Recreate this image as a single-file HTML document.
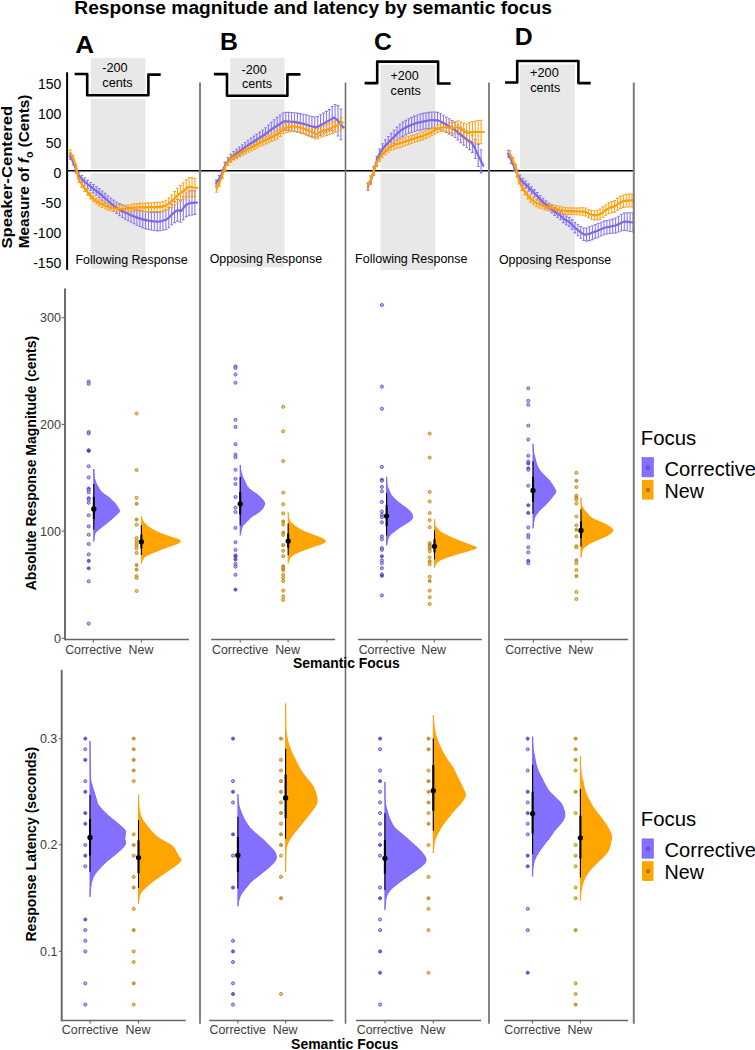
<!DOCTYPE html><html><head><meta charset="utf-8"><style>html,body{margin:0;padding:0;background:#fff;}svg{display:block;}</style></head><body>
<svg width="755" height="1050" viewBox="0 0 755 1050" font-family='"Liberation Sans", sans-serif'>
<rect width="755" height="1050" fill="#fff"/>
<text transform="translate(74.35,13.80) scale(0.9992,1)" font-size="19.2" font-weight="bold" fill="#000">Response magnitude and latency by semantic focus</text>
<text transform="translate(75.35,52.80) scale(1.0532,1)" font-size="24.8" font-weight="bold" fill="#000">A</text>
<text transform="translate(219.89,49.80) scale(1.0000,1)" font-size="24.8" font-weight="bold" fill="#000">B</text>
<text transform="translate(374.11,50.20) scale(1.0000,1)" font-size="24.8" font-weight="bold" fill="#000">C</text>
<text transform="translate(514.79,44.80) scale(1.0000,1)" font-size="24.8" font-weight="bold" fill="#000">D</text>
<rect x="90.8" y="57.80" width="54.60" height="36.20" fill="#E8E8E8"/>
<rect x="90.8" y="98.90" width="54.60" height="70.00" fill="#E8E8E8"/>
<rect x="90.8" y="173.30" width="54.60" height="95.50" fill="#E8E8E8"/>
<rect x="230.2" y="57.90" width="54.30" height="36.50" fill="#E8E8E8"/>
<rect x="230.2" y="99.30" width="54.30" height="69.60" fill="#E8E8E8"/>
<rect x="230.2" y="173.30" width="54.30" height="94.10" fill="#E8E8E8"/>
<rect x="380.5" y="64.90" width="54.70" height="104.00" fill="#E8E8E8"/>
<rect x="380.5" y="173.30" width="54.70" height="96.60" fill="#E8E8E8"/>
<rect x="520.1" y="64.50" width="54.70" height="104.40" fill="#E8E8E8"/>
<rect x="520.1" y="173.30" width="54.70" height="96.20" fill="#E8E8E8"/>
<path d="M74.6,74.0 L87.2,74.0 L87.2,95.2 L148.4,95.2 L148.4,74.6 L160.7,74.6" fill="none" stroke="#000" stroke-width="2.6" stroke-linejoin="round"/>
<path d="M213.9,74.1 L227.0,74.1 L227.0,95.7 L287.4,95.7 L287.4,74.4 L300.5,74.4" fill="none" stroke="#000" stroke-width="2.6" stroke-linejoin="round"/>
<path d="M364.6,83.1 L377.2,83.1 L377.2,61.6 L438.1,61.6 L438.1,83.5 L450.7,83.5" fill="none" stroke="#000" stroke-width="2.6" stroke-linejoin="round"/>
<path d="M505.0,82.5 L517.2,82.5 L517.2,61.0 L578.4,61.0 L578.4,83.1 L590.7,83.1" fill="none" stroke="#000" stroke-width="2.6" stroke-linejoin="round"/>
<text transform="translate(102.23,72.10) scale(1.0086,1)" font-size="12.6" font-weight="normal" fill="#000">-200</text>
<text transform="translate(102.29,86.70) scale(1.0113,1)" font-size="12.6" font-weight="normal" fill="#000">cents</text>
<text transform="translate(241.54,73.80) scale(0.9962,1)" font-size="12.6" font-weight="normal" fill="#000">-200</text>
<text transform="translate(241.90,87.70) scale(0.9976,1)" font-size="12.6" font-weight="normal" fill="#000">cents</text>
<text transform="translate(390.47,79.80) scale(0.9971,1)" font-size="12.6" font-weight="normal" fill="#000">+200</text>
<text transform="translate(390.60,94.50) scale(1.0011,1)" font-size="12.6" font-weight="normal" fill="#000">cents</text>
<text transform="translate(530.06,77.30) scale(1.0118,1)" font-size="12.6" font-weight="normal" fill="#000">+200</text>
<text transform="translate(530.20,91.80) scale(1.0011,1)" font-size="12.6" font-weight="normal" fill="#000">cents</text>
<text transform="translate(75.50,263.60) scale(0.9885,1)" font-size="12.6" font-weight="normal" fill="#000">Following Response</text>
<text transform="translate(209.64,262.70) scale(0.9865,1)" font-size="12.6" font-weight="normal" fill="#000">Opposing Response</text>
<text transform="translate(355.10,263.00) scale(0.9912,1)" font-size="12.6" font-weight="normal" fill="#000">Following Response</text>
<text transform="translate(498.94,264.30) scale(0.9830,1)" font-size="12.6" font-weight="normal" fill="#000">Opposing Response</text>
<line x1="67" y1="170.8" x2="633" y2="170.8" stroke="#000" stroke-width="1.5"/>
<line x1="67.1" y1="72.3" x2="67.1" y2="269.8" stroke="#000" stroke-width="2"/>
<text transform="translate(37.88,88.90) scale(1.0000,1)" font-size="14.0" font-weight="normal" fill="#000">150</text>
<text transform="translate(37.88,118.70) scale(1.0000,1)" font-size="14.0" font-weight="normal" fill="#000">100</text>
<text transform="translate(45.65,148.40) scale(1.0000,1)" font-size="14.0" font-weight="normal" fill="#000">50</text>
<text transform="translate(53.42,178.20) scale(1.0000,1)" font-size="14.0" font-weight="normal" fill="#000">0</text>
<text transform="translate(40.96,208.00) scale(1.0000,1)" font-size="14.0" font-weight="normal" fill="#000">-50</text>
<text transform="translate(33.19,237.80) scale(1.0000,1)" font-size="14.0" font-weight="normal" fill="#000">-100</text>
<text transform="translate(33.19,267.50) scale(1.0000,1)" font-size="14.0" font-weight="normal" fill="#000">-150</text>
<g transform="translate(11.90,248.00) rotate(-90) scale(1.0974,1)">
<text x="-0.46" y="0.00" font-size="15.20" font-weight="bold" fill="#000">Speaker-Centered</text>
</g>
<g transform="translate(29.00,247.30) rotate(-90) scale(1.0073,1)">
<text x="-0.99" y="0.00" font-size="15.20" font-weight="bold" fill="#000">Measure of </text>
<text x="83.48" y="0.00" font-size="15.20" font-weight="bold" font-style="italic" fill="#000">f</text>
<text x="88.54" y="3.50" font-size="10.64" font-weight="bold" fill="#000">o</text>
<text x="95.04" y="0.00" font-size="15.20" font-weight="bold" fill="#000"> (Cents)</text>
</g>
<path d="M70.20,153.19V159.21M68.80,153.19h2.8M68.80,159.21h2.8M73.10,158.63V164.98M71.70,158.63h2.8M71.70,164.98h2.8M76.00,166.16V172.85M74.60,166.16h2.8M74.60,172.85h2.8M78.90,172.11V179.13M77.50,172.11h2.8M77.50,179.13h2.8M81.80,175.30V182.65M80.40,175.30h2.8M80.40,182.65h2.8M84.70,177.81V185.47M83.30,177.81h2.8M83.30,185.47h2.8M87.60,180.20V188.12M86.20,180.20h2.8M86.20,188.12h2.8M90.50,182.44V190.64M89.10,182.44h2.8M89.10,190.64h2.8M93.40,184.51V192.97M92.00,184.51h2.8M92.00,192.97h2.8M96.30,186.50V195.22M94.90,186.50h2.8M94.90,195.22h2.8M99.20,188.64V197.62M97.80,188.64h2.8M97.80,197.62h2.8M102.10,190.97V200.22M100.70,190.97h2.8M100.70,200.22h2.8M105.00,193.37V202.88M103.60,193.37h2.8M103.60,202.88h2.8M107.90,195.72V205.66M106.50,195.72h2.8M106.50,205.66h2.8M110.80,198.06V208.53M109.40,198.06h2.8M109.40,208.53h2.8M113.70,200.16V211.15M112.30,200.16h2.8M112.30,211.15h2.8M116.60,202.01V213.53M115.20,202.01h2.8M115.20,213.53h2.8M119.50,203.60V215.64M118.10,203.60h2.8M118.10,215.64h2.8M122.40,204.88V217.45M121.00,204.88h2.8M121.00,217.45h2.8M125.30,206.00V219.10M123.90,206.00h2.8M123.90,219.10h2.8M128.20,207.09V220.73M126.80,207.09h2.8M126.80,220.73h2.8M131.10,208.09V222.31M129.70,208.09h2.8M129.70,222.31h2.8M134.00,209.02V223.82M132.60,209.02h2.8M132.60,223.82h2.8M136.90,209.90V225.28M135.50,209.90h2.8M135.50,225.28h2.8M139.80,210.57V226.53M138.40,210.57h2.8M138.40,226.53h2.8M142.70,211.10V227.64M141.30,211.10h2.8M141.30,227.64h2.8M145.60,211.57V228.63M144.20,211.57h2.8M144.20,228.63h2.8M148.50,212.01V229.39M147.10,212.01h2.8M147.10,229.39h2.8M151.40,212.35V230.03M150.00,212.35h2.8M150.00,230.03h2.8M154.30,212.57V230.56M152.90,212.57h2.8M152.90,230.56h2.8M157.20,212.56V230.86M155.80,212.56h2.8M155.80,230.86h2.8M160.10,212.13V230.74M158.70,212.13h2.8M158.70,230.74h2.8M163.00,211.14V230.25M161.60,211.14h2.8M161.60,230.25h2.8M165.90,209.83V229.43M164.50,209.83h2.8M164.50,229.43h2.8M168.80,207.62V227.72M167.40,207.62h2.8M167.40,227.72h2.8M171.70,204.38V224.97M170.30,204.38h2.8M170.30,224.97h2.8M174.60,201.50V222.58M173.20,201.50h2.8M173.20,222.58h2.8M177.50,199.55V221.12M176.10,199.55h2.8M176.10,221.12h2.8M180.40,200.12V222.24M179.00,200.12h2.8M179.00,222.24h2.8M183.30,196.74V219.73M181.90,196.74h2.8M181.90,219.73h2.8M186.20,192.99V216.85M184.80,192.99h2.8M184.80,216.85h2.8M189.10,191.07V215.80M187.70,191.07h2.8M187.70,215.80h2.8M192.00,190.63V215.01M190.60,190.63h2.8M190.60,215.01h2.8M194.90,190.86V214.36M193.50,190.86h2.8M193.50,214.36h2.8" fill="none" stroke="#8A78F0" stroke-width="1.1"/>
<path d="M70.20,149.90V155.90M68.80,149.90h2.8M68.80,155.90h2.8M73.10,155.27V161.27M71.70,155.27h2.8M71.70,161.27h2.8M76.00,163.98V169.98M74.60,163.98h2.8M74.60,169.98h2.8M78.90,176.52V182.52M77.50,176.52h2.8M77.50,182.52h2.8M81.80,181.34V187.34M80.40,181.34h2.8M80.40,187.34h2.8M84.70,185.53V191.53M83.30,185.53h2.8M83.30,191.53h2.8M87.60,189.29V195.29M86.20,189.29h2.8M86.20,195.29h2.8M90.50,192.90V198.90M89.10,192.90h2.8M89.10,198.90h2.8M93.40,195.82V201.82M92.00,195.82h2.8M92.00,201.82h2.8M96.30,198.05V204.05M94.90,198.05h2.8M94.90,204.05h2.8M99.20,199.84V205.84M97.80,199.84h2.8M97.80,205.84h2.8M102.10,201.33V207.40M100.70,201.33h2.8M100.70,207.40h2.8M105.00,202.57V208.74M103.60,202.57h2.8M103.60,208.74h2.8M107.90,203.57V209.83M106.50,203.57h2.8M106.50,209.83h2.8M110.80,204.32V210.68M109.40,204.32h2.8M109.40,210.68h2.8M113.70,204.86V211.32M112.30,204.86h2.8M112.30,211.32h2.8M116.60,205.24V211.79M115.20,205.24h2.8M115.20,211.79h2.8M119.50,205.42V212.07M118.10,205.42h2.8M118.10,212.07h2.8M122.40,205.41V212.16M121.00,205.41h2.8M121.00,212.16h2.8M125.30,205.27V212.11M123.90,205.27h2.8M123.90,212.11h2.8M128.20,205.01V211.95M126.80,205.01h2.8M126.80,211.95h2.8M131.10,204.48V211.58M129.70,204.48h2.8M129.70,211.58h2.8M134.00,203.91V211.27M132.60,203.91h2.8M132.60,211.27h2.8M136.90,203.59V211.21M135.50,203.59h2.8M135.50,211.21h2.8M139.80,203.42V211.30M138.40,203.42h2.8M138.40,211.30h2.8M142.70,203.27V211.42M141.30,203.27h2.8M141.30,211.42h2.8M145.60,203.08V211.49M144.20,203.08h2.8M144.20,211.49h2.8M148.50,202.89V211.55M147.10,202.89h2.8M147.10,211.55h2.8M151.40,202.70V211.61M150.00,202.70h2.8M150.00,211.61h2.8M154.30,202.51V211.65M152.90,202.51h2.8M152.90,211.65h2.8M157.20,202.29V211.66M155.80,202.29h2.8M155.80,211.66h2.8M160.10,201.99V211.59M158.70,201.99h2.8M158.70,211.59h2.8M163.00,201.55V211.39M161.60,201.55h2.8M161.60,211.39h2.8M165.90,200.27V210.63M164.50,200.27h2.8M164.50,210.63h2.8M168.80,197.76V209.28M167.40,197.76h2.8M167.40,209.28h2.8M171.70,194.72V207.40M170.30,194.72h2.8M170.30,207.40h2.8M174.60,191.47V205.31M173.20,191.47h2.8M173.20,205.31h2.8M177.50,188.22V203.05M176.10,188.22h2.8M176.10,203.05h2.8M180.40,185.38V201.18M179.00,185.38h2.8M179.00,201.18h2.8M183.30,182.74V199.51M181.90,182.74h2.8M181.90,199.51h2.8M186.20,179.91V197.65M184.80,179.91h2.8M184.80,197.65h2.8M189.10,177.52V196.22M187.70,177.52h2.8M187.70,196.22h2.8M192.00,177.91V196.63M190.60,177.91h2.8M190.60,196.63h2.8M194.90,178.50V196.82M193.50,178.50h2.8M193.50,196.82h2.8" fill="none" stroke="#FFA31A" stroke-width="1.1"/>
<path d="M70.20,156.20 C70.77,157.32 72.57,160.52 73.60,162.90 C74.63,165.28 75.45,168.28 76.40,170.50 C77.35,172.72 78.03,174.45 79.30,176.20 C80.57,177.95 82.10,179.25 84.00,181.00 C85.90,182.75 88.32,184.80 90.70,186.70 C93.08,188.60 95.75,190.35 98.30,192.40 C100.85,194.45 103.62,196.93 106.00,199.00 C108.38,201.07 110.38,203.05 112.60,204.80 C114.82,206.55 116.92,208.08 119.30,209.50 C121.68,210.92 124.62,212.22 126.90,213.30 C129.18,214.38 130.93,215.15 133.00,216.00 C135.07,216.85 136.72,217.62 139.30,218.40 C141.88,219.18 145.42,220.15 148.50,220.70 C151.58,221.25 155.05,221.82 157.80,221.70 C160.55,221.58 163.13,220.70 165.00,220.00 C166.87,219.30 167.57,218.70 169.00,217.50 C170.43,216.30 172.07,214.03 173.60,212.80 C175.13,211.57 176.97,210.40 178.20,210.10 C179.43,209.80 179.77,211.78 181.00,211.00 C182.23,210.22 184.05,206.72 185.60,205.40 C187.15,204.08 188.37,203.58 190.30,203.10 C192.23,202.62 196.05,202.60 197.20,202.50" fill="none" stroke="#7B68EE" stroke-width="2.2" stroke-linejoin="round" stroke-linecap="round"/>
<path d="M70.20,152.90 C70.58,153.58 71.78,155.50 72.50,157.00 C73.22,158.50 73.77,159.65 74.50,161.90 C75.23,164.15 76.27,167.80 76.90,170.50 C77.53,173.20 77.43,175.72 78.30,178.10 C79.17,180.48 80.67,182.58 82.10,184.80 C83.53,187.02 85.15,189.18 86.90,191.40 C88.65,193.62 90.53,196.18 92.60,198.10 C94.67,200.02 96.75,201.47 99.30,202.90 C101.85,204.33 104.88,205.75 107.90,206.70 C110.92,207.65 114.23,208.28 117.40,208.60 C120.57,208.92 123.97,208.78 126.90,208.60 C129.83,208.42 131.98,207.72 135.00,207.50 C138.02,207.28 140.83,207.42 145.00,207.30 C149.17,207.18 156.50,207.12 160.00,206.80 C163.50,206.48 164.00,206.40 166.00,205.40 C168.00,204.40 170.00,202.50 172.00,200.80 C174.00,199.10 176.00,196.90 178.00,195.20 C180.00,193.50 182.17,191.98 184.00,190.60 C185.83,189.22 187.50,187.42 189.00,186.90 C190.50,186.38 191.63,187.35 193.00,187.50 C194.37,187.65 196.50,187.75 197.20,187.80" fill="none" stroke="#FF9F00" stroke-width="2.2" stroke-linejoin="round" stroke-linecap="round"/>
<path d="M216.20,179.69V186.71M214.80,179.69h2.8M214.80,186.71h2.8M219.10,175.50V182.68M217.70,175.50h2.8M217.70,182.68h2.8M222.00,169.79V177.14M220.60,169.79h2.8M220.60,177.14h2.8M224.90,162.12V169.64M223.50,162.12h2.8M223.50,169.64h2.8M227.80,157.54V165.22M226.40,157.54h2.8M226.40,165.22h2.8M230.70,154.08V161.93M229.30,154.08h2.8M229.30,161.93h2.8M233.60,151.52V159.54M232.20,151.52h2.8M232.20,159.54h2.8M236.50,149.20V157.39M235.10,149.20h2.8M235.10,157.39h2.8M239.40,146.99V155.36M238.00,146.99h2.8M238.00,155.36h2.8M242.30,144.75V153.48M240.90,144.75h2.8M240.90,153.48h2.8M245.20,142.45V151.60M243.80,142.45h2.8M243.80,151.60h2.8M248.10,140.19V149.76M246.70,140.19h2.8M246.70,149.76h2.8M251.00,138.09V148.07M249.60,138.09h2.8M249.60,148.07h2.8M253.90,136.10V146.50M252.50,136.10h2.8M252.50,146.50h2.8M256.80,134.10V144.92M255.40,134.10h2.8M255.40,144.92h2.8M259.70,132.10V143.34M258.30,132.10h2.8M258.30,143.34h2.8M262.60,130.05V141.70M261.20,130.05h2.8M261.20,141.70h2.8M265.50,127.75V139.95M264.10,127.75h2.8M264.10,139.95h2.8M268.40,124.95V138.31M267.00,124.95h2.8M267.00,138.31h2.8M271.30,122.24V136.76M269.90,122.24h2.8M269.90,136.76h2.8M274.20,119.78V135.46M272.80,119.78h2.8M272.80,135.46h2.8M277.10,117.42V134.26M275.70,117.42h2.8M275.70,134.26h2.8M280.00,114.95V132.95M278.60,114.95h2.8M278.60,132.95h2.8M282.90,113.00V130.71M281.50,113.00h2.8M281.50,130.71h2.8M285.80,112.36V130.11M284.40,112.36h2.8M284.40,130.11h2.8M288.70,112.33V130.33M287.30,112.33h2.8M287.30,130.33h2.8M291.60,112.53V130.78M290.20,112.53h2.8M290.20,130.78h2.8M294.50,112.78V131.28M293.10,112.78h2.8M293.10,131.28h2.8M297.40,113.14V131.89M296.00,113.14h2.8M296.00,131.89h2.8M300.30,113.61V132.61M298.90,113.61h2.8M298.90,132.61h2.8M303.20,114.18V133.43M301.80,114.18h2.8M301.80,133.43h2.8M306.10,114.91V134.40M304.70,114.91h2.8M304.70,134.40h2.8M309.00,115.72V135.46M307.60,115.72h2.8M307.60,135.46h2.8M311.90,116.45V136.45M310.50,116.45h2.8M310.50,136.45h2.8M314.80,116.97V137.19M313.40,116.97h2.8M313.40,137.19h2.8M317.70,116.49V136.93M316.30,116.49h2.8M316.30,136.93h2.8M320.60,114.80V135.47M319.20,114.80h2.8M319.20,135.47h2.8M323.50,113.11V134.00M322.10,113.11h2.8M322.10,134.00h2.8M326.40,111.38V132.50M325.00,111.38h2.8M325.00,132.50h2.8M329.30,109.64V130.99M327.90,109.64h2.8M327.90,130.99h2.8M332.20,106.56V130.45M330.80,106.56h2.8M330.80,130.45h2.8M335.10,104.50V131.68M333.70,104.50h2.8M333.70,131.68h2.8M338.00,105.58V136.05M336.60,105.58h2.8M336.60,136.05h2.8M340.90,108.97V139.74M339.50,108.97h2.8M339.50,139.74h2.8" fill="none" stroke="#8A78F0" stroke-width="1.1"/>
<path d="M216.60,185.30V192.30M215.20,185.30h2.8M215.20,192.30h2.8M219.50,178.87V185.87M218.10,178.87h2.8M218.10,185.87h2.8M222.40,171.41V178.41M221.00,171.41h2.8M221.00,178.41h2.8M225.30,163.35V170.35M223.90,163.35h2.8M223.90,170.35h2.8M228.20,158.25V165.25M226.80,158.25h2.8M226.80,165.25h2.8M231.10,155.09V162.09M229.70,155.09h2.8M229.70,162.09h2.8M234.00,153.20V160.20M232.60,153.20h2.8M232.60,160.20h2.8M236.90,151.63V158.63M235.50,151.63h2.8M235.50,158.63h2.8M239.80,149.92V156.92M238.40,149.92h2.8M238.40,156.92h2.8M242.70,148.22V155.22M241.30,148.22h2.8M241.30,155.22h2.8M245.60,146.68V153.68M244.20,146.68h2.8M244.20,153.68h2.8M248.50,145.24V152.24M247.10,145.24h2.8M247.10,152.24h2.8M251.40,143.83V150.83M250.00,143.83h2.8M250.00,150.83h2.8M254.30,142.40V149.40M252.90,142.40h2.8M252.90,149.40h2.8M257.20,140.93V147.93M255.80,140.93h2.8M255.80,147.93h2.8M260.10,139.46V146.47M258.70,139.46h2.8M258.70,146.47h2.8M263.00,137.83V145.17M261.60,137.83h2.8M261.60,145.17h2.8M265.90,136.23V143.90M264.50,136.23h2.8M264.50,143.90h2.8M268.80,134.63V142.63M267.40,134.63h2.8M267.40,142.63h2.8M271.70,133.04V141.36M270.30,133.04h2.8M270.30,141.36h2.8M274.60,131.51V140.17M273.20,131.51h2.8M273.20,140.17h2.8M277.50,129.85V138.83M276.10,129.85h2.8M276.10,138.83h2.8M280.40,127.05V136.37M279.00,127.05h2.8M279.00,136.37h2.8M283.30,124.17V133.81M281.90,124.17h2.8M281.90,133.81h2.8M286.20,122.66V132.62M284.80,122.66h2.8M284.80,132.62h2.8M289.10,121.76V132.06M287.70,121.76h2.8M287.70,132.06h2.8M292.00,121.33V131.77M290.60,121.33h2.8M290.60,131.77h2.8M294.90,121.31V131.81M293.50,121.31h2.8M293.50,131.81h2.8M297.80,121.75V132.30M296.40,121.75h2.8M296.40,132.30h2.8M300.70,122.47V133.08M299.30,122.47h2.8M299.30,133.08h2.8M303.60,123.32V133.99M302.20,123.32h2.8M302.20,133.99h2.8M306.50,124.38V135.11M305.10,124.38h2.8M305.10,135.11h2.8M309.40,125.57V136.36M308.00,125.57h2.8M308.00,136.36h2.8M312.30,126.76V137.61M310.90,126.76h2.8M310.90,137.61h2.8M315.20,128.17V139.07M313.80,128.17h2.8M313.80,139.07h2.8M318.10,127.98V138.95M316.70,127.98h2.8M316.70,138.95h2.8M321.00,126.25V137.29M319.60,126.25h2.8M319.60,137.29h2.8M323.90,125.12V136.29M322.50,125.12h2.8M322.50,136.29h2.8M326.80,124.09V135.39M325.40,124.09h2.8M325.40,135.39h2.8M329.70,123.03V134.45M328.30,123.03h2.8M328.30,134.45h2.8M332.60,121.81V133.36M331.20,121.81h2.8M331.20,133.36h2.8M335.50,120.46V132.14M334.10,120.46h2.8M334.10,132.14h2.8M338.40,118.99V130.80M337.00,118.99h2.8M337.00,130.80h2.8M341.30,117.28V129.22M339.90,117.28h2.8M339.90,129.22h2.8" fill="none" stroke="#FFA31A" stroke-width="1.1"/>
<path d="M216.20,183.20 C216.73,182.43 218.40,180.30 219.40,178.60 C220.40,176.90 221.42,174.85 222.20,173.00 C222.98,171.15 223.33,169.20 224.10,167.50 C224.87,165.80 225.73,164.35 226.80,162.80 C227.87,161.25 228.95,159.73 230.50,158.20 C232.05,156.67 234.08,155.15 236.10,153.60 C238.12,152.05 240.43,150.45 242.60,148.90 C244.77,147.35 246.78,145.83 249.10,144.30 C251.42,142.77 254.03,141.25 256.50,139.70 C258.97,138.15 261.43,136.70 263.90,135.00 C266.37,133.30 268.82,131.20 271.30,129.50 C273.78,127.80 276.63,126.15 278.80,124.80 C280.97,123.45 281.85,121.88 284.30,121.40 C286.75,120.92 290.42,121.52 293.50,121.90 C296.58,122.28 299.70,122.93 302.80,123.70 C305.90,124.47 309.78,125.95 312.10,126.50 C314.42,127.05 315.15,127.30 316.70,127.00 C318.25,126.70 319.08,125.93 321.40,124.70 C323.72,123.47 328.45,120.77 330.60,119.60 C332.75,118.43 332.90,117.32 334.30,117.70 C335.70,118.08 337.75,120.58 339.00,121.90 C340.25,123.22 341.03,124.67 341.80,125.60 C342.57,126.53 343.30,127.18 343.60,127.50" fill="none" stroke="#7B68EE" stroke-width="2.2" stroke-linejoin="round" stroke-linecap="round"/>
<path d="M216.60,188.80 C217.22,187.42 219.22,183.13 220.30,180.50 C221.38,177.87 222.17,175.48 223.10,173.00 C224.03,170.52 224.67,167.92 225.90,165.60 C227.13,163.28 228.48,160.95 230.50,159.10 C232.52,157.25 235.68,155.88 238.00,154.50 C240.32,153.12 241.78,152.18 244.40,150.80 C247.02,149.42 250.60,147.75 253.70,146.20 C256.80,144.65 259.90,143.05 263.00,141.50 C266.10,139.95 269.80,138.15 272.30,136.90 C274.80,135.65 276.00,135.42 278.00,134.00 C280.00,132.58 281.72,129.65 284.30,128.40 C286.88,127.15 290.42,126.50 293.50,126.50 C296.58,126.50 299.70,127.47 302.80,128.40 C305.90,129.33 309.78,131.18 312.10,132.10 C314.42,133.02 315.15,133.98 316.70,133.90 C318.25,133.82 319.08,132.52 321.40,131.60 C323.72,130.68 327.83,129.48 330.60,128.40 C333.37,127.32 335.98,126.10 338.00,125.10 C340.02,124.10 341.92,122.85 342.70,122.40" fill="none" stroke="#FF9F00" stroke-width="2.2" stroke-linejoin="round" stroke-linecap="round"/>
<path d="M368.00,183.10V190.10M366.60,183.10h2.8M366.60,190.10h2.8M370.90,176.36V184.12M369.50,176.36h2.8M369.50,184.12h2.8M373.80,166.67V175.19M372.40,166.67h2.8M372.40,175.19h2.8M376.70,156.25V165.52M375.30,156.25h2.8M375.30,165.52h2.8M379.60,148.98V159.00M378.20,148.98h2.8M378.20,159.00h2.8M382.50,143.79V154.57M381.10,143.79h2.8M381.10,154.57h2.8M385.40,139.80V151.34M384.00,139.80h2.8M384.00,151.34h2.8M388.30,136.43V148.73M386.90,136.43h2.8M386.90,148.73h2.8M391.20,133.28V146.30M389.80,133.28h2.8M389.80,146.30h2.8M394.10,130.19V143.51M392.70,130.19h2.8M392.70,143.51h2.8M397.00,127.09V140.71M395.60,127.09h2.8M395.60,140.71h2.8M399.90,124.32V138.24M398.50,124.32h2.8M398.50,138.24h2.8M402.80,122.13V136.35M401.40,122.13h2.8M401.40,136.35h2.8M405.70,120.35V134.87M404.30,120.35h2.8M404.30,134.87h2.8M408.60,118.75V133.57M407.20,118.75h2.8M407.20,133.57h2.8M411.50,117.33V132.45M410.10,117.33h2.8M410.10,132.45h2.8M414.40,116.10V131.52M413.00,116.10h2.8M413.00,131.52h2.8M417.30,115.00V130.73M415.90,115.00h2.8M415.90,130.73h2.8M420.20,114.09V130.09M418.80,114.09h2.8M418.80,130.09h2.8M423.10,113.42V129.47M421.70,113.42h2.8M421.70,129.47h2.8M426.00,112.83V128.92M424.60,112.83h2.8M424.60,128.92h2.8M428.90,112.34V128.46M427.50,112.34h2.8M427.50,128.46h2.8M431.80,112.02V128.18M430.40,112.02h2.8M430.40,128.18h2.8M434.70,111.95V128.12M433.30,111.95h2.8M433.30,128.12h2.8M437.60,112.35V128.36M436.20,112.35h2.8M436.20,128.36h2.8M440.50,113.52V129.38M439.10,113.52h2.8M439.10,129.38h2.8M443.40,115.28V130.99M442.00,115.28h2.8M442.00,130.99h2.8M446.30,116.97V132.52M444.90,116.97h2.8M444.90,132.52h2.8M449.20,118.74V134.14M447.80,118.74h2.8M447.80,134.14h2.8M452.10,120.53V135.79M450.70,120.53h2.8M450.70,135.79h2.8M455.00,122.43V137.53M453.60,122.43h2.8M453.60,137.53h2.8M457.90,124.77V139.90M456.50,124.77h2.8M456.50,139.90h2.8M460.80,127.05V142.63M459.40,127.05h2.8M459.40,142.63h2.8M463.70,129.11V145.14M462.30,129.11h2.8M462.30,145.14h2.8M466.60,131.09V147.56M465.20,131.09h2.8M465.20,147.56h2.8M469.50,132.75V149.67M468.10,132.75h2.8M468.10,149.67h2.8M472.40,134.99V152.35M471.00,134.99h2.8M471.00,152.35h2.8M475.30,139.54V158.53M473.90,139.54h2.8M473.90,158.53h2.8M478.20,144.46V166.54M476.80,144.46h2.8M476.80,166.54h2.8M481.10,149.72V172.87M479.70,149.72h2.8M479.70,172.87h2.8" fill="none" stroke="#8A78F0" stroke-width="1.1"/>
<path d="M368.00,182.20V189.20M366.60,182.20h2.8M366.60,189.20h2.8M370.90,175.64V182.76M369.50,175.64h2.8M369.50,182.76h2.8M373.80,167.11V174.36M372.40,167.11h2.8M372.40,174.36h2.8M376.70,159.28V166.66M375.30,159.28h2.8M375.30,166.66h2.8M379.60,153.89V161.40M378.20,153.89h2.8M378.20,161.40h2.8M382.50,150.17V157.80M381.10,150.17h2.8M381.10,157.80h2.8M385.40,146.99V154.75M384.00,146.99h2.8M384.00,154.75h2.8M388.30,144.43V152.32M386.90,144.43h2.8M386.90,152.32h2.8M391.20,142.51V150.52M389.80,142.51h2.8M389.80,150.52h2.8M394.10,140.97V149.11M392.70,140.97h2.8M392.70,149.11h2.8M397.00,139.87V148.14M395.60,139.87h2.8M395.60,148.14h2.8M399.90,139.03V147.43M398.50,139.03h2.8M398.50,147.43h2.8M402.80,138.13V146.44M401.40,138.13h2.8M401.40,146.44h2.8M405.70,137.21V145.44M404.30,137.21h2.8M404.30,145.44h2.8M408.60,136.31V144.44M407.20,136.31h2.8M407.20,144.44h2.8M411.50,135.40V143.44M410.10,135.40h2.8M410.10,143.44h2.8M414.40,134.51V142.46M413.00,134.51h2.8M413.00,142.46h2.8M417.30,133.64V141.50M415.90,133.64h2.8M415.90,141.50h2.8M420.20,132.82V140.59M418.80,132.82h2.8M418.80,140.59h2.8M423.10,131.92V139.60M421.70,131.92h2.8M421.70,139.60h2.8M426.00,130.83V138.42M424.60,130.83h2.8M424.60,138.42h2.8M428.90,129.61V137.10M427.50,129.61h2.8M427.50,137.10h2.8M431.80,128.30V135.70M430.40,128.30h2.8M430.40,135.70h2.8M434.70,126.69V134.09M433.30,126.69h2.8M433.30,134.09h2.8M437.60,125.05V132.45M436.20,125.05h2.8M436.20,132.45h2.8M440.50,123.99V131.39M439.10,123.99h2.8M439.10,131.39h2.8M443.40,123.53V131.09M442.00,123.53h2.8M442.00,131.09h2.8M446.30,122.93V131.61M444.90,122.93h2.8M444.90,131.61h2.8M449.20,122.56V132.37M447.80,122.56h2.8M447.80,132.37h2.8M452.10,122.68V133.62M450.70,122.68h2.8M450.70,133.62h2.8M455.00,121.66V133.74M453.60,121.66h2.8M453.60,133.74h2.8M457.90,120.81V134.01M456.50,120.81h2.8M456.50,134.01h2.8M460.80,121.72V136.05M459.40,121.72h2.8M459.40,136.05h2.8M463.70,122.96V138.87M462.30,122.96h2.8M462.30,138.87h2.8M466.60,123.98V141.77M465.20,123.98h2.8M465.20,141.77h2.8M469.50,122.66V142.34M468.10,122.66h2.8M468.10,142.34h2.8M472.40,121.51V142.37M471.00,121.51h2.8M471.00,142.37h2.8M475.30,121.04V142.95M473.90,121.04h2.8M473.90,142.95h2.8M478.20,120.52V143.48M476.80,120.52h2.8M476.80,143.48h2.8M481.10,120.20V143.80M479.70,120.20h2.8M479.70,143.80h2.8" fill="none" stroke="#FFA31A" stroke-width="1.1"/>
<path d="M368.00,186.60 C368.55,185.37 370.28,181.98 371.30,179.20 C372.32,176.42 373.18,173.00 374.10,169.90 C375.02,166.80 375.73,163.53 376.80,160.60 C377.87,157.67 379.10,154.77 380.50,152.30 C381.90,149.83 383.33,147.97 385.20,145.80 C387.07,143.63 389.23,141.73 391.70,139.30 C394.17,136.87 397.30,133.33 400.00,131.20 C402.70,129.07 405.25,127.82 407.90,126.50 C410.55,125.18 413.25,124.17 415.90,123.30 C418.55,122.43 421.15,121.83 423.80,121.30 C426.45,120.77 429.40,120.23 431.80,120.10 C434.20,119.97 436.22,119.97 438.20,120.50 C440.18,121.03 441.85,122.30 443.70,123.30 C445.55,124.30 447.32,125.32 449.30,126.50 C451.28,127.68 453.82,129.12 455.60,130.40 C457.38,131.68 458.15,132.70 460.00,134.20 C461.85,135.70 464.80,138.00 466.70,139.40 C468.60,140.80 470.17,141.43 471.40,142.60 C472.63,143.77 473.18,144.70 474.10,146.40 C475.02,148.10 475.82,150.48 476.90,152.80 C477.98,155.12 479.52,158.13 480.60,160.30 C481.68,162.47 482.93,164.88 483.40,165.80" fill="none" stroke="#7B68EE" stroke-width="2.2" stroke-linejoin="round" stroke-linecap="round"/>
<path d="M368.00,185.70 C368.55,184.45 370.28,180.83 371.30,178.20 C372.32,175.57 373.02,172.83 374.10,169.90 C375.18,166.97 376.42,163.23 377.80,160.60 C379.18,157.97 380.70,156.10 382.40,154.10 C384.10,152.10 386.00,150.13 388.00,148.60 C390.00,147.07 392.40,145.80 394.40,144.90 C396.40,144.00 397.75,143.92 400.00,143.20 C402.25,142.48 405.25,141.47 407.90,140.60 C410.55,139.73 413.25,138.85 415.90,138.00 C418.55,137.15 421.15,136.50 423.80,135.50 C426.45,134.50 429.15,133.27 431.80,132.00 C434.45,130.73 437.05,128.68 439.70,127.90 C442.35,127.12 445.52,127.25 447.70,127.30 C449.88,127.35 451.18,128.20 452.80,128.20 C454.42,128.20 455.85,127.05 457.40,127.30 C458.95,127.55 460.55,128.77 462.10,129.70 C463.65,130.63 465.15,132.52 466.70,132.90 C468.25,133.28 469.85,132.15 471.40,132.00 C472.95,131.85 474.47,132.00 476.00,132.00 C477.53,132.00 479.28,132.00 480.60,132.00 C481.92,132.00 483.35,132.00 483.90,132.00" fill="none" stroke="#FF9F00" stroke-width="2.2" stroke-linejoin="round" stroke-linecap="round"/>
<path d="M508.30,150.30V157.30M506.90,150.30h2.8M506.90,157.30h2.8M511.20,156.50V163.55M509.80,156.50h2.8M509.80,163.55h2.8M514.10,163.23V170.31M512.70,163.23h2.8M512.70,170.31h2.8M517.00,169.84V176.96M515.60,169.84h2.8M515.60,176.96h2.8M519.90,175.04V182.19M518.50,175.04h2.8M518.50,182.19h2.8M522.80,178.29V185.49M521.40,178.29h2.8M521.40,185.49h2.8M525.70,180.99V188.22M524.30,180.99h2.8M524.30,188.22h2.8M528.60,183.86V191.14M527.20,183.86h2.8M527.20,191.14h2.8M531.50,186.74V194.06M530.10,186.74h2.8M530.10,194.06h2.8M534.40,189.62V196.97M533.00,189.62h2.8M533.00,196.97h2.8M537.30,192.51V199.90M535.90,192.51h2.8M535.90,199.90h2.8M540.20,195.51V202.94M538.80,195.51h2.8M538.80,202.94h2.8M543.10,198.32V205.78M541.70,198.32h2.8M541.70,205.78h2.8M546.00,200.69V208.20M544.60,200.69h2.8M544.60,208.20h2.8M548.90,203.01V210.55M547.50,203.01h2.8M547.50,210.55h2.8M551.80,205.41V213.00M550.40,205.41h2.8M550.40,213.00h2.8M554.70,207.60V215.34M553.30,207.60h2.8M553.30,215.34h2.8M557.60,209.53V217.51M556.20,209.53h2.8M556.20,217.51h2.8M560.50,211.55V219.77M559.10,211.55h2.8M559.10,219.77h2.8M563.40,214.12V222.58M562.00,214.12h2.8M562.00,222.58h2.8M566.30,216.13V224.82M564.90,216.13h2.8M564.90,224.82h2.8M569.20,217.46V226.40M567.80,217.46h2.8M567.80,226.40h2.8M572.10,219.86V229.38M570.70,219.86h2.8M570.70,229.38h2.8M575.00,222.67V232.92M573.60,222.67h2.8M573.60,232.92h2.8M577.90,224.75V235.73M576.50,224.75h2.8M576.50,235.73h2.8M580.80,226.49V238.19M579.40,226.49h2.8M579.40,238.19h2.8M583.70,227.98V240.41M582.30,227.98h2.8M582.30,240.41h2.8M586.60,228.00V241.15M585.20,228.00h2.8M585.20,241.15h2.8M589.50,226.75V240.63M588.10,226.75h2.8M588.10,240.63h2.8M592.40,225.71V239.63M591.00,225.71h2.8M591.00,239.63h2.8M595.30,224.58V238.42M593.90,224.58h2.8M593.90,238.42h2.8M598.20,223.47V237.22M596.80,223.47h2.8M596.80,237.22h2.8M601.10,222.31V235.98M599.70,222.31h2.8M599.70,235.98h2.8M604.00,221.14V234.72M602.60,221.14h2.8M602.60,234.72h2.8M606.90,220.44V233.94M605.50,220.44h2.8M605.50,233.94h2.8M609.80,219.98V233.38M608.40,219.98h2.8M608.40,233.38h2.8M612.70,219.11V233.24M611.30,219.11h2.8M611.30,233.24h2.8M615.60,217.94V232.85M614.20,217.94h2.8M614.20,232.85h2.8M618.50,216.32V232.01M617.10,216.32h2.8M617.10,232.01h2.8M621.40,214.54V231.01M620.00,214.54h2.8M620.00,231.01h2.8M624.30,213.10V230.36M622.90,213.10h2.8M622.90,230.36h2.8M627.20,212.74V230.78M625.80,212.74h2.8M625.80,230.78h2.8M630.10,212.68V231.48M628.70,212.68h2.8M628.70,231.48h2.8M633.00,213.07V231.87M631.60,213.07h2.8M631.60,231.87h2.8" fill="none" stroke="#8A78F0" stroke-width="1.1"/>
<path d="M510.20,150.80V157.80M508.80,150.80h2.8M508.80,157.80h2.8M513.10,157.51V164.55M511.70,157.51h2.8M511.70,164.55h2.8M516.00,164.45V171.54M514.60,164.45h2.8M514.60,171.54h2.8M518.90,176.84V183.97M517.50,176.84h2.8M517.50,183.97h2.8M521.80,183.15V190.33M520.40,183.15h2.8M520.40,190.33h2.8M524.70,187.77V194.99M523.30,187.77h2.8M523.30,194.99h2.8M527.60,191.75V199.01M526.20,191.75h2.8M526.20,199.01h2.8M530.50,195.05V202.36M529.10,195.05h2.8M529.10,202.36h2.8M533.40,197.40V204.75M532.00,197.40h2.8M532.00,204.75h2.8M536.30,199.26V206.65M534.90,199.26h2.8M534.90,206.65h2.8M539.20,200.71V208.05M537.80,200.71h2.8M537.80,208.05h2.8M542.10,201.81V209.07M540.70,201.81h2.8M540.70,209.07h2.8M545.00,202.76V209.95M543.60,202.76h2.8M543.60,209.95h2.8M547.90,203.54V210.66M546.50,203.54h2.8M546.50,210.66h2.8M550.80,204.23V211.27M549.40,204.23h2.8M549.40,211.27h2.8M553.70,204.94V211.90M552.30,204.94h2.8M552.30,211.90h2.8M556.60,205.64V212.52M555.20,205.64h2.8M555.20,212.52h2.8M559.50,206.32V213.13M558.10,206.32h2.8M558.10,213.13h2.8M562.40,207.03V213.77M561.00,207.03h2.8M561.00,213.77h2.8M565.30,207.50V214.15M563.90,207.50h2.8M563.90,214.15h2.8M568.20,207.72V214.30M566.80,207.72h2.8M566.80,214.30h2.8M571.10,207.88V214.39M569.70,207.88h2.8M569.70,214.39h2.8M574.00,208.04V214.47M572.60,208.04h2.8M572.60,214.47h2.8M576.90,208.03V214.70M575.50,208.03h2.8M575.50,214.70h2.8M579.80,207.87V214.96M578.40,207.87h2.8M578.40,214.96h2.8M582.70,207.78V215.29M581.30,207.78h2.8M581.30,215.29h2.8M585.60,208.01V215.94M584.20,208.01h2.8M584.20,215.94h2.8M588.50,209.44V217.78M587.10,209.44h2.8M587.10,217.78h2.8M591.40,210.42V219.18M590.00,210.42h2.8M590.00,219.18h2.8M594.30,210.70V219.88M592.90,210.70h2.8M592.90,219.88h2.8M597.20,210.30V219.90M595.80,210.30h2.8M595.80,219.90h2.8M600.10,209.15V219.16M598.70,209.15h2.8M598.70,219.16h2.8M603.00,206.92V217.22M601.60,206.92h2.8M601.60,217.22h2.8M605.90,204.71V215.30M604.50,204.71h2.8M604.50,215.30h2.8M608.80,202.80V213.68M607.40,202.80h2.8M607.40,213.68h2.8M611.70,201.60V212.77M610.30,201.60h2.8M610.30,212.77h2.8M614.60,200.62V212.08M613.20,200.62h2.8M613.20,212.08h2.8M617.50,198.42V210.17M616.10,198.42h2.8M616.10,210.17h2.8M620.40,196.35V208.39M619.00,196.35h2.8M619.00,208.39h2.8M623.30,195.02V207.35M621.90,195.02h2.8M621.90,207.35h2.8M626.20,194.40V207.02M624.80,194.40h2.8M624.80,207.02h2.8M629.10,194.08V206.99M627.70,194.08h2.8M627.70,206.99h2.8M632.00,193.95V206.95M630.60,193.95h2.8M630.60,206.95h2.8" fill="none" stroke="#FFA31A" stroke-width="1.1"/>
<path d="M508.30,153.80 C508.77,154.80 510.17,157.72 511.10,159.80 C512.03,161.88 512.97,164.13 513.90,166.30 C514.83,168.47 515.62,170.63 516.70,172.80 C517.78,174.97 518.85,177.28 520.40,179.30 C521.95,181.32 524.15,183.05 526.00,184.90 C527.85,186.75 529.65,188.55 531.50,190.40 C533.35,192.25 535.25,194.13 537.10,196.00 C538.95,197.87 540.75,199.90 542.60,201.60 C544.45,203.30 546.33,204.67 548.20,206.20 C550.07,207.73 551.78,209.25 553.80,210.80 C555.82,212.35 558.43,214.02 560.30,215.50 C562.17,216.98 563.38,218.53 565.00,219.70 C566.62,220.87 568.35,221.17 570.00,222.50 C571.65,223.83 573.25,226.17 574.90,227.70 C576.55,229.23 578.23,230.55 579.90,231.70 C581.57,232.85 583.25,234.28 584.90,234.60 C586.55,234.92 588.15,234.08 589.80,233.60 C591.45,233.12 593.13,232.35 594.80,231.70 C596.47,231.05 598.15,230.37 599.80,229.70 C601.45,229.03 603.05,228.20 604.70,227.70 C606.35,227.20 608.03,227.03 609.70,226.70 C611.37,226.37 613.05,226.20 614.70,225.70 C616.35,225.20 617.95,224.37 619.60,223.70 C621.25,223.03 622.32,221.90 624.60,221.70 C626.88,221.50 631.85,222.37 633.30,222.50" fill="none" stroke="#7B68EE" stroke-width="2.2" stroke-linejoin="round" stroke-linecap="round"/>
<path d="M510.20,154.30 C510.67,155.38 512.07,158.63 513.00,160.80 C513.93,162.97 515.03,164.83 515.80,167.30 C516.57,169.77 516.98,173.13 517.60,175.60 C518.22,178.07 518.72,180.10 519.50,182.10 C520.28,184.10 521.22,185.75 522.30,187.60 C523.38,189.45 524.62,191.33 526.00,193.20 C527.38,195.07 528.75,197.10 530.60,198.80 C532.45,200.50 534.78,202.17 537.10,203.40 C539.42,204.63 542.03,205.43 544.50,206.20 C546.97,206.97 549.27,207.38 551.90,208.00 C554.53,208.62 558.12,209.43 560.30,209.90 C562.48,210.37 562.57,210.57 565.00,210.80 C567.43,211.03 571.58,211.13 574.90,211.30 C578.22,211.47 582.42,211.30 584.90,211.80 C587.38,212.30 588.15,213.72 589.80,214.30 C591.45,214.88 593.13,215.30 594.80,215.30 C596.47,215.30 598.15,215.05 599.80,214.30 C601.45,213.55 603.05,211.88 604.70,210.80 C606.35,209.72 608.03,208.55 609.70,207.80 C611.37,207.05 613.05,207.13 614.70,206.30 C616.35,205.47 617.95,203.70 619.60,202.80 C621.25,201.90 622.32,201.30 624.60,200.90 C626.88,200.50 631.85,200.48 633.30,200.40" fill="none" stroke="#FF9F00" stroke-width="2.2" stroke-linejoin="round" stroke-linecap="round"/>
<line x1="200.0" y1="82.5" x2="200.0" y2="1023.8" stroke="#828282" stroke-width="2.0"/>
<line x1="345.5" y1="82.5" x2="345.5" y2="1023.8" stroke="#727272" stroke-width="1.6"/>
<line x1="489.0" y1="82.5" x2="489.0" y2="1023.8" stroke="#858585" stroke-width="2.0"/>
<line x1="633.8" y1="82.5" x2="633.8" y2="1023.8" stroke="#7A7A7A" stroke-width="2.0"/>
<line x1="65" y1="288.4" x2="65" y2="640.3" stroke="#666666" stroke-width="1.9"/>
<line x1="61.7" y1="317.7" x2="65" y2="317.7" stroke="#666666" stroke-width="1.1"/>
<text transform="translate(40.02,322.38) scale(1.0000,1)" font-size="12.5" font-weight="normal" fill="#3C3C3C">300</text>
<line x1="61.7" y1="424.4" x2="65" y2="424.4" stroke="#666666" stroke-width="1.1"/>
<text transform="translate(40.03,429.07) scale(1.0000,1)" font-size="12.5" font-weight="normal" fill="#3C3C3C">200</text>
<line x1="61.7" y1="531.2" x2="65" y2="531.2" stroke="#666666" stroke-width="1.1"/>
<text transform="translate(40.02,535.88) scale(1.0000,1)" font-size="12.5" font-weight="normal" fill="#3C3C3C">100</text>
<line x1="61.7" y1="638.2" x2="65" y2="638.2" stroke="#666666" stroke-width="1.1"/>
<text transform="translate(53.90,642.88) scale(1.0000,1)" font-size="12.5" font-weight="normal" fill="#3C3C3C">0</text>
<line x1="65" y1="639.5" x2="188.9" y2="639.5" stroke="#666666" stroke-width="1.6"/>
<line x1="93.4" y1="639.5" x2="93.4" y2="642.6" stroke="#666666" stroke-width="1.1"/>
<line x1="141.5" y1="639.5" x2="141.5" y2="642.6" stroke="#666666" stroke-width="1.1"/>
<text transform="translate(65.13,653.60) scale(1.0000,1)" font-size="12.4" font-weight="normal" fill="#3C3C3C">Corrective</text>
<text transform="translate(128.57,653.60) scale(1.0000,1)" font-size="12.4" font-weight="normal" fill="#3C3C3C">New</text>
<line x1="211.2" y1="639.5" x2="335.1" y2="639.5" stroke="#666666" stroke-width="1.6"/>
<line x1="240.2" y1="639.5" x2="240.2" y2="642.6" stroke="#666666" stroke-width="1.1"/>
<line x1="288.1" y1="639.5" x2="288.1" y2="642.6" stroke="#666666" stroke-width="1.1"/>
<text transform="translate(211.93,653.60) scale(1.0000,1)" font-size="12.4" font-weight="normal" fill="#3C3C3C">Corrective</text>
<text transform="translate(275.17,653.60) scale(1.0000,1)" font-size="12.4" font-weight="normal" fill="#3C3C3C">New</text>
<line x1="357.9" y1="639.5" x2="481.8" y2="639.5" stroke="#666666" stroke-width="1.6"/>
<line x1="386.9" y1="639.5" x2="386.9" y2="642.6" stroke="#666666" stroke-width="1.1"/>
<line x1="434.2" y1="639.5" x2="434.2" y2="642.6" stroke="#666666" stroke-width="1.1"/>
<text transform="translate(358.63,653.60) scale(1.0000,1)" font-size="12.4" font-weight="normal" fill="#3C3C3C">Corrective</text>
<text transform="translate(421.27,653.60) scale(1.0000,1)" font-size="12.4" font-weight="normal" fill="#3C3C3C">New</text>
<line x1="504.1" y1="639.5" x2="628.0" y2="639.5" stroke="#666666" stroke-width="1.6"/>
<line x1="533.4" y1="639.5" x2="533.4" y2="642.6" stroke="#666666" stroke-width="1.1"/>
<line x1="581.1" y1="639.5" x2="581.1" y2="642.6" stroke="#666666" stroke-width="1.1"/>
<text transform="translate(505.13,653.60) scale(1.0000,1)" font-size="12.4" font-weight="normal" fill="#3C3C3C">Corrective</text>
<text transform="translate(568.17,653.60) scale(1.0000,1)" font-size="12.4" font-weight="normal" fill="#3C3C3C">New</text>
<line x1="61.7" y1="669.7" x2="61.7" y2="1021.3" stroke="#666666" stroke-width="1.9"/>
<line x1="58.8" y1="738.6" x2="61.7" y2="738.6" stroke="#666666" stroke-width="1.1"/>
<text transform="translate(39.92,743.27) scale(1.0000,1)" font-size="12.5" font-weight="normal" fill="#3C3C3C">0.3</text>
<line x1="58.8" y1="844.8" x2="61.7" y2="844.8" stroke="#666666" stroke-width="1.1"/>
<text transform="translate(40.05,849.47) scale(1.0000,1)" font-size="12.5" font-weight="normal" fill="#3C3C3C">0.2</text>
<line x1="58.8" y1="951.3" x2="61.7" y2="951.3" stroke="#666666" stroke-width="1.1"/>
<text transform="translate(39.99,955.97) scale(1.0000,1)" font-size="12.5" font-weight="normal" fill="#3C3C3C">0.1</text>
<line x1="61.7" y1="1020.5" x2="185.7" y2="1020.5" stroke="#666666" stroke-width="1.6"/>
<line x1="90.1" y1="1020.5" x2="90.1" y2="1023.6" stroke="#666666" stroke-width="1.1"/>
<line x1="138.5" y1="1020.5" x2="138.5" y2="1023.6" stroke="#666666" stroke-width="1.1"/>
<text transform="translate(61.83,1034.40) scale(1.0000,1)" font-size="12.4" font-weight="normal" fill="#3C3C3C">Corrective</text>
<text transform="translate(125.57,1034.40) scale(1.0000,1)" font-size="12.4" font-weight="normal" fill="#3C3C3C">New</text>
<line x1="209.2" y1="1020.5" x2="333.5" y2="1020.5" stroke="#666666" stroke-width="1.6"/>
<line x1="237.8" y1="1020.5" x2="237.8" y2="1023.6" stroke="#666666" stroke-width="1.1"/>
<line x1="285.7" y1="1020.5" x2="285.7" y2="1023.6" stroke="#666666" stroke-width="1.1"/>
<text transform="translate(209.53,1034.40) scale(1.0000,1)" font-size="12.4" font-weight="normal" fill="#3C3C3C">Corrective</text>
<text transform="translate(272.77,1034.40) scale(1.0000,1)" font-size="12.4" font-weight="normal" fill="#3C3C3C">New</text>
<line x1="356.1" y1="1020.5" x2="481.0" y2="1020.5" stroke="#666666" stroke-width="1.6"/>
<line x1="385.0" y1="1020.5" x2="385.0" y2="1023.6" stroke="#666666" stroke-width="1.1"/>
<line x1="433.3" y1="1020.5" x2="433.3" y2="1023.6" stroke="#666666" stroke-width="1.1"/>
<text transform="translate(356.73,1034.40) scale(1.0000,1)" font-size="12.4" font-weight="normal" fill="#3C3C3C">Corrective</text>
<text transform="translate(420.37,1034.40) scale(1.0000,1)" font-size="12.4" font-weight="normal" fill="#3C3C3C">New</text>
<line x1="503.9" y1="1020.5" x2="628.1" y2="1020.5" stroke="#666666" stroke-width="1.6"/>
<line x1="532.5" y1="1020.5" x2="532.5" y2="1023.6" stroke="#666666" stroke-width="1.1"/>
<line x1="580.4" y1="1020.5" x2="580.4" y2="1023.6" stroke="#666666" stroke-width="1.1"/>
<text transform="translate(504.23,1034.40) scale(1.0000,1)" font-size="12.4" font-weight="normal" fill="#3C3C3C">Corrective</text>
<text transform="translate(567.47,1034.40) scale(1.0000,1)" font-size="12.4" font-weight="normal" fill="#3C3C3C">New</text>
<g transform="translate(35.90,589.90) rotate(-90) scale(1.0003,1)">
<text x="-0.35" y="0.00" font-size="14.00" font-weight="bold" fill="#000">Absolute Response Magnitude (cents)</text>
</g>
<g transform="translate(35.70,940.70) rotate(-90) scale(1.0060,1)">
<text x="-0.91" y="0.00" font-size="14.00" font-weight="bold" fill="#000">Response Latency (seconds)</text>
</g>
<text transform="translate(293.08,668.30) scale(1.0015,1)" font-size="13.9" font-weight="bold" fill="#000">Semantic Focus</text>
<text transform="translate(291.08,1048.80) scale(1.0062,1)" font-size="13.9" font-weight="bold" fill="#000">Semantic Focus</text>
<text transform="translate(640.77,444.70) scale(1.0172,1)" font-size="20" font-weight="normal" fill="#000">Focus</text>
<rect x="642" y="457.6" width="11.5" height="19.3" fill="#8470FF" stroke="#7060F5" stroke-width="0.6"/>
<rect x="642" y="479.9" width="11.5" height="19.7" fill="#FFA500"/>
<circle cx="648" cy="467.6" r="1.6" fill="#7566D8" stroke="#4B3BB0" stroke-width="0.8"/>
<circle cx="648" cy="489.9" r="1.6" fill="#C08A20" stroke="#7a5a10" stroke-width="0.8"/>
<text transform="translate(664.60,475.50) scale(1.0022,1)" font-size="20" font-weight="normal" fill="#000">Corrective</text>
<text transform="translate(664.52,497.50) scale(0.9844,1)" font-size="20" font-weight="normal" fill="#000">New</text>
<text transform="translate(640.77,826.00) scale(1.0172,1)" font-size="20" font-weight="normal" fill="#000">Focus</text>
<rect x="642" y="838.9" width="11.5" height="19.3" fill="#8470FF" stroke="#7060F5" stroke-width="0.6"/>
<rect x="642" y="861.2" width="11.5" height="19.7" fill="#FFA500"/>
<circle cx="648" cy="848.9" r="1.6" fill="#7566D8" stroke="#4B3BB0" stroke-width="0.8"/>
<circle cx="648" cy="871.2" r="1.6" fill="#C08A20" stroke="#7a5a10" stroke-width="0.8"/>
<text transform="translate(664.60,856.80) scale(1.0022,1)" font-size="20" font-weight="normal" fill="#000">Corrective</text>
<text transform="translate(664.52,878.80) scale(0.9844,1)" font-size="20" font-weight="normal" fill="#000">New</text>
<circle cx="88.7" cy="381.60" r="1.55" fill="#A99FF2" fill-opacity="0.8" stroke="#4E3FBE" stroke-width="0.85" stroke-opacity="0.9"/>
<circle cx="88.7" cy="383.80" r="1.55" fill="#A99FF2" fill-opacity="0.8" stroke="#4E3FBE" stroke-width="0.85" stroke-opacity="0.9"/>
<circle cx="88.7" cy="432.00" r="1.55" fill="#A99FF2" fill-opacity="0.8" stroke="#4E3FBE" stroke-width="0.85" stroke-opacity="0.9"/>
<circle cx="88.7" cy="433.50" r="1.55" fill="#A99FF2" fill-opacity="0.8" stroke="#4E3FBE" stroke-width="0.85" stroke-opacity="0.9"/>
<circle cx="88.7" cy="450.20" r="1.55" fill="#4A36C8" fill-opacity="0.8" stroke="#4E3FBE" stroke-width="0.85" stroke-opacity="0.9"/>
<circle cx="88.7" cy="451.00" r="1.55" fill="#4A36C8" fill-opacity="0.8" stroke="#4E3FBE" stroke-width="0.85" stroke-opacity="0.9"/>
<circle cx="88.7" cy="466.30" r="1.55" fill="#A99FF2" fill-opacity="0.8" stroke="#4E3FBE" stroke-width="0.85" stroke-opacity="0.9"/>
<circle cx="88.7" cy="477.40" r="1.55" fill="#A99FF2" fill-opacity="0.8" stroke="#4E3FBE" stroke-width="0.85" stroke-opacity="0.9"/>
<circle cx="88.7" cy="488.60" r="1.55" fill="#4A36C8" fill-opacity="0.8" stroke="#4E3FBE" stroke-width="0.85" stroke-opacity="0.9"/>
<circle cx="88.7" cy="489.80" r="1.55" fill="#A99FF2" fill-opacity="0.8" stroke="#4E3FBE" stroke-width="0.85" stroke-opacity="0.9"/>
<circle cx="88.7" cy="492.30" r="1.55" fill="#A99FF2" fill-opacity="0.8" stroke="#4E3FBE" stroke-width="0.85" stroke-opacity="0.9"/>
<circle cx="88.7" cy="498.20" r="1.55" fill="#4A36C8" fill-opacity="0.8" stroke="#4E3FBE" stroke-width="0.85" stroke-opacity="0.9"/>
<circle cx="88.7" cy="499.70" r="1.55" fill="#A99FF2" fill-opacity="0.8" stroke="#4E3FBE" stroke-width="0.85" stroke-opacity="0.9"/>
<circle cx="88.7" cy="502.80" r="1.55" fill="#A99FF2" fill-opacity="0.8" stroke="#4E3FBE" stroke-width="0.85" stroke-opacity="0.9"/>
<circle cx="88.7" cy="515.30" r="1.55" fill="#A99FF2" fill-opacity="0.8" stroke="#4E3FBE" stroke-width="0.85" stroke-opacity="0.9"/>
<circle cx="88.7" cy="526.40" r="1.55" fill="#A99FF2" fill-opacity="0.8" stroke="#4E3FBE" stroke-width="0.85" stroke-opacity="0.9"/>
<circle cx="88.7" cy="534.70" r="1.55" fill="#A99FF2" fill-opacity="0.8" stroke="#4E3FBE" stroke-width="0.85" stroke-opacity="0.9"/>
<circle cx="88.7" cy="544.00" r="1.55" fill="#A99FF2" fill-opacity="0.8" stroke="#4E3FBE" stroke-width="0.85" stroke-opacity="0.9"/>
<circle cx="88.7" cy="554.40" r="1.55" fill="#A99FF2" fill-opacity="0.8" stroke="#4E3FBE" stroke-width="0.85" stroke-opacity="0.9"/>
<circle cx="88.7" cy="560.90" r="1.55" fill="#4A36C8" fill-opacity="0.8" stroke="#4E3FBE" stroke-width="0.85" stroke-opacity="0.9"/>
<circle cx="88.7" cy="568.30" r="1.55" fill="#4A36C8" fill-opacity="0.8" stroke="#4E3FBE" stroke-width="0.85" stroke-opacity="0.9"/>
<circle cx="88.7" cy="581.30" r="1.55" fill="#A99FF2" fill-opacity="0.8" stroke="#4E3FBE" stroke-width="0.85" stroke-opacity="0.9"/>
<circle cx="88.7" cy="623.60" r="1.55" fill="#A99FF2" fill-opacity="0.8" stroke="#4E3FBE" stroke-width="0.85" stroke-opacity="0.9"/>
<circle cx="136.6" cy="413.50" r="1.55" fill="#EDB53C" fill-opacity="0.8" stroke="#B07D12" stroke-width="0.85" stroke-opacity="0.9"/>
<circle cx="136.6" cy="470.00" r="1.55" fill="#EDB53C" fill-opacity="0.8" stroke="#B07D12" stroke-width="0.85" stroke-opacity="0.9"/>
<circle cx="136.6" cy="497.80" r="1.55" fill="#EDB53C" fill-opacity="0.8" stroke="#B07D12" stroke-width="0.85" stroke-opacity="0.9"/>
<circle cx="136.6" cy="503.80" r="1.55" fill="#C8860A" fill-opacity="0.8" stroke="#B07D12" stroke-width="0.85" stroke-opacity="0.9"/>
<circle cx="136.6" cy="519.50" r="1.55" fill="#C8860A" fill-opacity="0.8" stroke="#B07D12" stroke-width="0.85" stroke-opacity="0.9"/>
<circle cx="136.6" cy="524.70" r="1.55" fill="#EDB53C" fill-opacity="0.8" stroke="#B07D12" stroke-width="0.85" stroke-opacity="0.9"/>
<circle cx="136.6" cy="538.10" r="1.55" fill="#EDB53C" fill-opacity="0.8" stroke="#B07D12" stroke-width="0.85" stroke-opacity="0.9"/>
<circle cx="136.6" cy="540.90" r="1.55" fill="#EDB53C" fill-opacity="0.8" stroke="#B07D12" stroke-width="0.85" stroke-opacity="0.9"/>
<circle cx="136.6" cy="543.60" r="1.55" fill="#EDB53C" fill-opacity="0.8" stroke="#B07D12" stroke-width="0.85" stroke-opacity="0.9"/>
<circle cx="136.6" cy="545.50" r="1.55" fill="#EDB53C" fill-opacity="0.8" stroke="#B07D12" stroke-width="0.85" stroke-opacity="0.9"/>
<circle cx="136.6" cy="548.30" r="1.55" fill="#EDB53C" fill-opacity="0.8" stroke="#B07D12" stroke-width="0.85" stroke-opacity="0.9"/>
<circle cx="136.6" cy="552.90" r="1.55" fill="#EDB53C" fill-opacity="0.8" stroke="#B07D12" stroke-width="0.85" stroke-opacity="0.9"/>
<circle cx="136.6" cy="565.00" r="1.55" fill="#C8860A" fill-opacity="0.8" stroke="#B07D12" stroke-width="0.85" stroke-opacity="0.9"/>
<circle cx="136.6" cy="569.60" r="1.55" fill="#C8860A" fill-opacity="0.8" stroke="#B07D12" stroke-width="0.85" stroke-opacity="0.9"/>
<circle cx="136.6" cy="576.10" r="1.55" fill="#EDB53C" fill-opacity="0.8" stroke="#B07D12" stroke-width="0.85" stroke-opacity="0.9"/>
<circle cx="136.6" cy="577.90" r="1.55" fill="#EDB53C" fill-opacity="0.8" stroke="#B07D12" stroke-width="0.85" stroke-opacity="0.9"/>
<circle cx="136.6" cy="591.00" r="1.55" fill="#EDB53C" fill-opacity="0.8" stroke="#B07D12" stroke-width="0.85" stroke-opacity="0.9"/>
<circle cx="235.5" cy="366.40" r="1.55" fill="#A99FF2" fill-opacity="0.8" stroke="#4E3FBE" stroke-width="0.85" stroke-opacity="0.9"/>
<circle cx="235.5" cy="368.00" r="1.55" fill="#A99FF2" fill-opacity="0.8" stroke="#4E3FBE" stroke-width="0.85" stroke-opacity="0.9"/>
<circle cx="235.5" cy="374.50" r="1.55" fill="#A99FF2" fill-opacity="0.8" stroke="#4E3FBE" stroke-width="0.85" stroke-opacity="0.9"/>
<circle cx="235.5" cy="382.70" r="1.55" fill="#A99FF2" fill-opacity="0.8" stroke="#4E3FBE" stroke-width="0.85" stroke-opacity="0.9"/>
<circle cx="235.5" cy="419.80" r="1.55" fill="#A99FF2" fill-opacity="0.8" stroke="#4E3FBE" stroke-width="0.85" stroke-opacity="0.9"/>
<circle cx="235.5" cy="426.90" r="1.55" fill="#A99FF2" fill-opacity="0.8" stroke="#4E3FBE" stroke-width="0.85" stroke-opacity="0.9"/>
<circle cx="235.5" cy="444.20" r="1.55" fill="#A99FF2" fill-opacity="0.8" stroke="#4E3FBE" stroke-width="0.85" stroke-opacity="0.9"/>
<circle cx="235.5" cy="454.50" r="1.55" fill="#A99FF2" fill-opacity="0.8" stroke="#4E3FBE" stroke-width="0.85" stroke-opacity="0.9"/>
<circle cx="235.5" cy="457.20" r="1.55" fill="#A99FF2" fill-opacity="0.8" stroke="#4E3FBE" stroke-width="0.85" stroke-opacity="0.9"/>
<circle cx="235.5" cy="469.80" r="1.55" fill="#A99FF2" fill-opacity="0.8" stroke="#4E3FBE" stroke-width="0.85" stroke-opacity="0.9"/>
<circle cx="235.5" cy="478.80" r="1.55" fill="#A99FF2" fill-opacity="0.8" stroke="#4E3FBE" stroke-width="0.85" stroke-opacity="0.9"/>
<circle cx="235.5" cy="484.00" r="1.55" fill="#A99FF2" fill-opacity="0.8" stroke="#4E3FBE" stroke-width="0.85" stroke-opacity="0.9"/>
<circle cx="235.5" cy="497.00" r="1.55" fill="#A99FF2" fill-opacity="0.8" stroke="#4E3FBE" stroke-width="0.85" stroke-opacity="0.9"/>
<circle cx="235.5" cy="507.60" r="1.55" fill="#A99FF2" fill-opacity="0.8" stroke="#4E3FBE" stroke-width="0.85" stroke-opacity="0.9"/>
<circle cx="235.5" cy="512.00" r="1.55" fill="#A99FF2" fill-opacity="0.8" stroke="#4E3FBE" stroke-width="0.85" stroke-opacity="0.9"/>
<circle cx="235.5" cy="527.80" r="1.55" fill="#A99FF2" fill-opacity="0.8" stroke="#4E3FBE" stroke-width="0.85" stroke-opacity="0.9"/>
<circle cx="235.5" cy="542.20" r="1.55" fill="#A99FF2" fill-opacity="0.8" stroke="#4E3FBE" stroke-width="0.85" stroke-opacity="0.9"/>
<circle cx="235.5" cy="549.90" r="1.55" fill="#A99FF2" fill-opacity="0.8" stroke="#4E3FBE" stroke-width="0.85" stroke-opacity="0.9"/>
<circle cx="235.5" cy="555.20" r="1.55" fill="#A99FF2" fill-opacity="0.8" stroke="#4E3FBE" stroke-width="0.85" stroke-opacity="0.9"/>
<circle cx="235.5" cy="556.60" r="1.55" fill="#4A36C8" fill-opacity="0.8" stroke="#4E3FBE" stroke-width="0.85" stroke-opacity="0.9"/>
<circle cx="235.5" cy="559.50" r="1.55" fill="#4A36C8" fill-opacity="0.8" stroke="#4E3FBE" stroke-width="0.85" stroke-opacity="0.9"/>
<circle cx="235.5" cy="563.70" r="1.55" fill="#A99FF2" fill-opacity="0.8" stroke="#4E3FBE" stroke-width="0.85" stroke-opacity="0.9"/>
<circle cx="235.5" cy="566.60" r="1.55" fill="#A99FF2" fill-opacity="0.8" stroke="#4E3FBE" stroke-width="0.85" stroke-opacity="0.9"/>
<circle cx="235.5" cy="574.80" r="1.55" fill="#A99FF2" fill-opacity="0.8" stroke="#4E3FBE" stroke-width="0.85" stroke-opacity="0.9"/>
<circle cx="235.5" cy="589.60" r="1.55" fill="#4A36C8" fill-opacity="0.8" stroke="#4E3FBE" stroke-width="0.85" stroke-opacity="0.9"/>
<circle cx="283.2" cy="406.80" r="1.55" fill="#EDB53C" fill-opacity="0.8" stroke="#B07D12" stroke-width="0.85" stroke-opacity="0.9"/>
<circle cx="283.2" cy="431.30" r="1.55" fill="#EDB53C" fill-opacity="0.8" stroke="#B07D12" stroke-width="0.85" stroke-opacity="0.9"/>
<circle cx="283.2" cy="461.10" r="1.55" fill="#EDB53C" fill-opacity="0.8" stroke="#B07D12" stroke-width="0.85" stroke-opacity="0.9"/>
<circle cx="283.2" cy="492.60" r="1.55" fill="#EDB53C" fill-opacity="0.8" stroke="#B07D12" stroke-width="0.85" stroke-opacity="0.9"/>
<circle cx="283.2" cy="504.30" r="1.55" fill="#EDB53C" fill-opacity="0.8" stroke="#B07D12" stroke-width="0.85" stroke-opacity="0.9"/>
<circle cx="283.2" cy="513.40" r="1.55" fill="#EDB53C" fill-opacity="0.8" stroke="#B07D12" stroke-width="0.85" stroke-opacity="0.9"/>
<circle cx="283.2" cy="521.40" r="1.55" fill="#C8860A" fill-opacity="0.8" stroke="#B07D12" stroke-width="0.85" stroke-opacity="0.9"/>
<circle cx="283.2" cy="524.50" r="1.55" fill="#EDB53C" fill-opacity="0.8" stroke="#B07D12" stroke-width="0.85" stroke-opacity="0.9"/>
<circle cx="283.2" cy="532.60" r="1.55" fill="#C8860A" fill-opacity="0.8" stroke="#B07D12" stroke-width="0.85" stroke-opacity="0.9"/>
<circle cx="283.2" cy="534.90" r="1.55" fill="#EDB53C" fill-opacity="0.8" stroke="#B07D12" stroke-width="0.85" stroke-opacity="0.9"/>
<circle cx="283.2" cy="545.10" r="1.55" fill="#C8860A" fill-opacity="0.8" stroke="#B07D12" stroke-width="0.85" stroke-opacity="0.9"/>
<circle cx="283.2" cy="550.80" r="1.55" fill="#EDB53C" fill-opacity="0.8" stroke="#B07D12" stroke-width="0.85" stroke-opacity="0.9"/>
<circle cx="283.2" cy="556.20" r="1.55" fill="#EDB53C" fill-opacity="0.8" stroke="#B07D12" stroke-width="0.85" stroke-opacity="0.9"/>
<circle cx="283.2" cy="566.20" r="1.55" fill="#C8860A" fill-opacity="0.8" stroke="#B07D12" stroke-width="0.85" stroke-opacity="0.9"/>
<circle cx="283.2" cy="568.10" r="1.55" fill="#EDB53C" fill-opacity="0.8" stroke="#B07D12" stroke-width="0.85" stroke-opacity="0.9"/>
<circle cx="283.2" cy="570.00" r="1.55" fill="#C8860A" fill-opacity="0.8" stroke="#B07D12" stroke-width="0.85" stroke-opacity="0.9"/>
<circle cx="283.2" cy="574.80" r="1.55" fill="#EDB53C" fill-opacity="0.8" stroke="#B07D12" stroke-width="0.85" stroke-opacity="0.9"/>
<circle cx="283.2" cy="577.70" r="1.55" fill="#EDB53C" fill-opacity="0.8" stroke="#B07D12" stroke-width="0.85" stroke-opacity="0.9"/>
<circle cx="283.2" cy="581.00" r="1.55" fill="#EDB53C" fill-opacity="0.8" stroke="#B07D12" stroke-width="0.85" stroke-opacity="0.9"/>
<circle cx="283.2" cy="590.60" r="1.55" fill="#EDB53C" fill-opacity="0.8" stroke="#B07D12" stroke-width="0.85" stroke-opacity="0.9"/>
<circle cx="283.2" cy="596.30" r="1.55" fill="#EDB53C" fill-opacity="0.8" stroke="#B07D12" stroke-width="0.85" stroke-opacity="0.9"/>
<circle cx="283.2" cy="599.80" r="1.55" fill="#EDB53C" fill-opacity="0.8" stroke="#B07D12" stroke-width="0.85" stroke-opacity="0.9"/>
<circle cx="381.9" cy="305.00" r="1.55" fill="#A99FF2" fill-opacity="0.8" stroke="#4E3FBE" stroke-width="0.85" stroke-opacity="0.9"/>
<circle cx="381.9" cy="386.60" r="1.55" fill="#A99FF2" fill-opacity="0.8" stroke="#4E3FBE" stroke-width="0.85" stroke-opacity="0.9"/>
<circle cx="381.9" cy="408.70" r="1.55" fill="#A99FF2" fill-opacity="0.8" stroke="#4E3FBE" stroke-width="0.85" stroke-opacity="0.9"/>
<circle cx="381.9" cy="466.90" r="1.55" fill="#A99FF2" fill-opacity="0.8" stroke="#4E3FBE" stroke-width="0.85" stroke-opacity="0.9"/>
<circle cx="381.9" cy="479.80" r="1.55" fill="#4A36C8" fill-opacity="0.8" stroke="#4E3FBE" stroke-width="0.85" stroke-opacity="0.9"/>
<circle cx="381.9" cy="480.70" r="1.55" fill="#A99FF2" fill-opacity="0.8" stroke="#4E3FBE" stroke-width="0.85" stroke-opacity="0.9"/>
<circle cx="381.9" cy="486.90" r="1.55" fill="#A99FF2" fill-opacity="0.8" stroke="#4E3FBE" stroke-width="0.85" stroke-opacity="0.9"/>
<circle cx="381.9" cy="491.30" r="1.55" fill="#A99FF2" fill-opacity="0.8" stroke="#4E3FBE" stroke-width="0.85" stroke-opacity="0.9"/>
<circle cx="381.9" cy="501.90" r="1.55" fill="#A99FF2" fill-opacity="0.8" stroke="#4E3FBE" stroke-width="0.85" stroke-opacity="0.9"/>
<circle cx="381.9" cy="511.50" r="1.55" fill="#A99FF2" fill-opacity="0.8" stroke="#4E3FBE" stroke-width="0.85" stroke-opacity="0.9"/>
<circle cx="381.9" cy="514.90" r="1.55" fill="#A99FF2" fill-opacity="0.8" stroke="#4E3FBE" stroke-width="0.85" stroke-opacity="0.9"/>
<circle cx="381.9" cy="517.20" r="1.55" fill="#A99FF2" fill-opacity="0.8" stroke="#4E3FBE" stroke-width="0.85" stroke-opacity="0.9"/>
<circle cx="381.9" cy="522.40" r="1.55" fill="#A99FF2" fill-opacity="0.8" stroke="#4E3FBE" stroke-width="0.85" stroke-opacity="0.9"/>
<circle cx="381.9" cy="536.40" r="1.55" fill="#A99FF2" fill-opacity="0.8" stroke="#4E3FBE" stroke-width="0.85" stroke-opacity="0.9"/>
<circle cx="381.9" cy="539.30" r="1.55" fill="#A99FF2" fill-opacity="0.8" stroke="#4E3FBE" stroke-width="0.85" stroke-opacity="0.9"/>
<circle cx="381.9" cy="548.00" r="1.55" fill="#A99FF2" fill-opacity="0.8" stroke="#4E3FBE" stroke-width="0.85" stroke-opacity="0.9"/>
<circle cx="381.9" cy="549.90" r="1.55" fill="#A99FF2" fill-opacity="0.8" stroke="#4E3FBE" stroke-width="0.85" stroke-opacity="0.9"/>
<circle cx="381.9" cy="556.20" r="1.55" fill="#4A36C8" fill-opacity="0.8" stroke="#4E3FBE" stroke-width="0.85" stroke-opacity="0.9"/>
<circle cx="381.9" cy="560.40" r="1.55" fill="#A99FF2" fill-opacity="0.8" stroke="#4E3FBE" stroke-width="0.85" stroke-opacity="0.9"/>
<circle cx="381.9" cy="563.30" r="1.55" fill="#A99FF2" fill-opacity="0.8" stroke="#4E3FBE" stroke-width="0.85" stroke-opacity="0.9"/>
<circle cx="381.9" cy="568.10" r="1.55" fill="#A99FF2" fill-opacity="0.8" stroke="#4E3FBE" stroke-width="0.85" stroke-opacity="0.9"/>
<circle cx="381.9" cy="574.40" r="1.55" fill="#A99FF2" fill-opacity="0.8" stroke="#4E3FBE" stroke-width="0.85" stroke-opacity="0.9"/>
<circle cx="381.9" cy="575.80" r="1.55" fill="#4A36C8" fill-opacity="0.8" stroke="#4E3FBE" stroke-width="0.85" stroke-opacity="0.9"/>
<circle cx="381.9" cy="595.40" r="1.55" fill="#A99FF2" fill-opacity="0.8" stroke="#4E3FBE" stroke-width="0.85" stroke-opacity="0.9"/>
<circle cx="429.7" cy="433.60" r="1.55" fill="#EDB53C" fill-opacity="0.8" stroke="#B07D12" stroke-width="0.85" stroke-opacity="0.9"/>
<circle cx="429.7" cy="457.60" r="1.55" fill="#EDB53C" fill-opacity="0.8" stroke="#B07D12" stroke-width="0.85" stroke-opacity="0.9"/>
<circle cx="429.7" cy="491.90" r="1.55" fill="#EDB53C" fill-opacity="0.8" stroke="#B07D12" stroke-width="0.85" stroke-opacity="0.9"/>
<circle cx="429.7" cy="501.50" r="1.55" fill="#EDB53C" fill-opacity="0.8" stroke="#B07D12" stroke-width="0.85" stroke-opacity="0.9"/>
<circle cx="429.7" cy="513.00" r="1.55" fill="#EDB53C" fill-opacity="0.8" stroke="#B07D12" stroke-width="0.85" stroke-opacity="0.9"/>
<circle cx="429.7" cy="520.10" r="1.55" fill="#EDB53C" fill-opacity="0.8" stroke="#B07D12" stroke-width="0.85" stroke-opacity="0.9"/>
<circle cx="429.7" cy="527.20" r="1.55" fill="#EDB53C" fill-opacity="0.8" stroke="#B07D12" stroke-width="0.85" stroke-opacity="0.9"/>
<circle cx="429.7" cy="543.10" r="1.55" fill="#EDB53C" fill-opacity="0.8" stroke="#B07D12" stroke-width="0.85" stroke-opacity="0.9"/>
<circle cx="429.7" cy="545.10" r="1.55" fill="#C8860A" fill-opacity="0.8" stroke="#B07D12" stroke-width="0.85" stroke-opacity="0.9"/>
<circle cx="429.7" cy="547.00" r="1.55" fill="#EDB53C" fill-opacity="0.8" stroke="#B07D12" stroke-width="0.85" stroke-opacity="0.9"/>
<circle cx="429.7" cy="548.90" r="1.55" fill="#C8860A" fill-opacity="0.8" stroke="#B07D12" stroke-width="0.85" stroke-opacity="0.9"/>
<circle cx="429.7" cy="551.40" r="1.55" fill="#EDB53C" fill-opacity="0.8" stroke="#B07D12" stroke-width="0.85" stroke-opacity="0.9"/>
<circle cx="429.7" cy="557.50" r="1.55" fill="#EDB53C" fill-opacity="0.8" stroke="#B07D12" stroke-width="0.85" stroke-opacity="0.9"/>
<circle cx="429.7" cy="561.40" r="1.55" fill="#C8860A" fill-opacity="0.8" stroke="#B07D12" stroke-width="0.85" stroke-opacity="0.9"/>
<circle cx="429.7" cy="564.30" r="1.55" fill="#EDB53C" fill-opacity="0.8" stroke="#B07D12" stroke-width="0.85" stroke-opacity="0.9"/>
<circle cx="429.7" cy="576.80" r="1.55" fill="#EDB53C" fill-opacity="0.8" stroke="#B07D12" stroke-width="0.85" stroke-opacity="0.9"/>
<circle cx="429.7" cy="581.00" r="1.55" fill="#C8860A" fill-opacity="0.8" stroke="#B07D12" stroke-width="0.85" stroke-opacity="0.9"/>
<circle cx="429.7" cy="590.60" r="1.55" fill="#EDB53C" fill-opacity="0.8" stroke="#B07D12" stroke-width="0.85" stroke-opacity="0.9"/>
<circle cx="429.7" cy="597.30" r="1.55" fill="#EDB53C" fill-opacity="0.8" stroke="#B07D12" stroke-width="0.85" stroke-opacity="0.9"/>
<circle cx="429.7" cy="604.00" r="1.55" fill="#EDB53C" fill-opacity="0.8" stroke="#B07D12" stroke-width="0.85" stroke-opacity="0.9"/>
<circle cx="528.3" cy="388.30" r="1.55" fill="#A99FF2" fill-opacity="0.8" stroke="#4E3FBE" stroke-width="0.85" stroke-opacity="0.9"/>
<circle cx="528.3" cy="400.80" r="1.55" fill="#A99FF2" fill-opacity="0.8" stroke="#4E3FBE" stroke-width="0.85" stroke-opacity="0.9"/>
<circle cx="528.3" cy="404.80" r="1.55" fill="#A99FF2" fill-opacity="0.8" stroke="#4E3FBE" stroke-width="0.85" stroke-opacity="0.9"/>
<circle cx="528.3" cy="425.60" r="1.55" fill="#A99FF2" fill-opacity="0.8" stroke="#4E3FBE" stroke-width="0.85" stroke-opacity="0.9"/>
<circle cx="528.3" cy="439.50" r="1.55" fill="#A99FF2" fill-opacity="0.8" stroke="#4E3FBE" stroke-width="0.85" stroke-opacity="0.9"/>
<circle cx="528.3" cy="455.80" r="1.55" fill="#A99FF2" fill-opacity="0.8" stroke="#4E3FBE" stroke-width="0.85" stroke-opacity="0.9"/>
<circle cx="528.3" cy="461.50" r="1.55" fill="#A99FF2" fill-opacity="0.8" stroke="#4E3FBE" stroke-width="0.85" stroke-opacity="0.9"/>
<circle cx="528.3" cy="463.40" r="1.55" fill="#4A36C8" fill-opacity="0.8" stroke="#4E3FBE" stroke-width="0.85" stroke-opacity="0.9"/>
<circle cx="528.3" cy="468.40" r="1.55" fill="#4A36C8" fill-opacity="0.8" stroke="#4E3FBE" stroke-width="0.85" stroke-opacity="0.9"/>
<circle cx="528.3" cy="469.80" r="1.55" fill="#A99FF2" fill-opacity="0.8" stroke="#4E3FBE" stroke-width="0.85" stroke-opacity="0.9"/>
<circle cx="528.3" cy="485.70" r="1.55" fill="#A99FF2" fill-opacity="0.8" stroke="#4E3FBE" stroke-width="0.85" stroke-opacity="0.9"/>
<circle cx="528.3" cy="505.20" r="1.55" fill="#4A36C8" fill-opacity="0.8" stroke="#4E3FBE" stroke-width="0.85" stroke-opacity="0.9"/>
<circle cx="528.3" cy="512.90" r="1.55" fill="#4A36C8" fill-opacity="0.8" stroke="#4E3FBE" stroke-width="0.85" stroke-opacity="0.9"/>
<circle cx="528.3" cy="527.40" r="1.55" fill="#A99FF2" fill-opacity="0.8" stroke="#4E3FBE" stroke-width="0.85" stroke-opacity="0.9"/>
<circle cx="528.3" cy="535.00" r="1.55" fill="#A99FF2" fill-opacity="0.8" stroke="#4E3FBE" stroke-width="0.85" stroke-opacity="0.9"/>
<circle cx="528.3" cy="537.40" r="1.55" fill="#A99FF2" fill-opacity="0.8" stroke="#4E3FBE" stroke-width="0.85" stroke-opacity="0.9"/>
<circle cx="528.3" cy="547.30" r="1.55" fill="#A99FF2" fill-opacity="0.8" stroke="#4E3FBE" stroke-width="0.85" stroke-opacity="0.9"/>
<circle cx="528.3" cy="552.30" r="1.55" fill="#A99FF2" fill-opacity="0.8" stroke="#4E3FBE" stroke-width="0.85" stroke-opacity="0.9"/>
<circle cx="528.3" cy="560.80" r="1.55" fill="#4A36C8" fill-opacity="0.8" stroke="#4E3FBE" stroke-width="0.85" stroke-opacity="0.9"/>
<circle cx="528.3" cy="563.20" r="1.55" fill="#A99FF2" fill-opacity="0.8" stroke="#4E3FBE" stroke-width="0.85" stroke-opacity="0.9"/>
<circle cx="576.4" cy="472.80" r="1.55" fill="#EDB53C" fill-opacity="0.8" stroke="#B07D12" stroke-width="0.85" stroke-opacity="0.9"/>
<circle cx="576.4" cy="480.70" r="1.55" fill="#C8860A" fill-opacity="0.8" stroke="#B07D12" stroke-width="0.85" stroke-opacity="0.9"/>
<circle cx="576.4" cy="487.10" r="1.55" fill="#EDB53C" fill-opacity="0.8" stroke="#B07D12" stroke-width="0.85" stroke-opacity="0.9"/>
<circle cx="576.4" cy="495.60" r="1.55" fill="#EDB53C" fill-opacity="0.8" stroke="#B07D12" stroke-width="0.85" stroke-opacity="0.9"/>
<circle cx="576.4" cy="497.60" r="1.55" fill="#C8860A" fill-opacity="0.8" stroke="#B07D12" stroke-width="0.85" stroke-opacity="0.9"/>
<circle cx="576.4" cy="499.60" r="1.55" fill="#EDB53C" fill-opacity="0.8" stroke="#B07D12" stroke-width="0.85" stroke-opacity="0.9"/>
<circle cx="576.4" cy="503.60" r="1.55" fill="#EDB53C" fill-opacity="0.8" stroke="#B07D12" stroke-width="0.85" stroke-opacity="0.9"/>
<circle cx="576.4" cy="516.50" r="1.55" fill="#EDB53C" fill-opacity="0.8" stroke="#B07D12" stroke-width="0.85" stroke-opacity="0.9"/>
<circle cx="576.4" cy="525.40" r="1.55" fill="#EDB53C" fill-opacity="0.8" stroke="#B07D12" stroke-width="0.85" stroke-opacity="0.9"/>
<circle cx="576.4" cy="529.80" r="1.55" fill="#C8860A" fill-opacity="0.8" stroke="#B07D12" stroke-width="0.85" stroke-opacity="0.9"/>
<circle cx="576.4" cy="536.40" r="1.55" fill="#EDB53C" fill-opacity="0.8" stroke="#B07D12" stroke-width="0.85" stroke-opacity="0.9"/>
<circle cx="576.4" cy="546.30" r="1.55" fill="#EDB53C" fill-opacity="0.8" stroke="#B07D12" stroke-width="0.85" stroke-opacity="0.9"/>
<circle cx="576.4" cy="547.30" r="1.55" fill="#EDB53C" fill-opacity="0.8" stroke="#B07D12" stroke-width="0.85" stroke-opacity="0.9"/>
<circle cx="576.4" cy="560.20" r="1.55" fill="#C8860A" fill-opacity="0.8" stroke="#B07D12" stroke-width="0.85" stroke-opacity="0.9"/>
<circle cx="576.4" cy="563.20" r="1.55" fill="#EDB53C" fill-opacity="0.8" stroke="#B07D12" stroke-width="0.85" stroke-opacity="0.9"/>
<circle cx="576.4" cy="570.10" r="1.55" fill="#EDB53C" fill-opacity="0.8" stroke="#B07D12" stroke-width="0.85" stroke-opacity="0.9"/>
<circle cx="576.4" cy="576.10" r="1.55" fill="#C8860A" fill-opacity="0.8" stroke="#B07D12" stroke-width="0.85" stroke-opacity="0.9"/>
<circle cx="576.4" cy="592.00" r="1.55" fill="#EDB53C" fill-opacity="0.8" stroke="#B07D12" stroke-width="0.85" stroke-opacity="0.9"/>
<circle cx="576.4" cy="599.00" r="1.55" fill="#EDB53C" fill-opacity="0.8" stroke="#B07D12" stroke-width="0.85" stroke-opacity="0.9"/>
<circle cx="85.3" cy="738.60" r="1.55" fill="#4A36C8" fill-opacity="0.8" stroke="#4E3FBE" stroke-width="0.85" stroke-opacity="0.9"/>
<circle cx="85.3" cy="749.24" r="1.55" fill="#A99FF2" fill-opacity="0.8" stroke="#4E3FBE" stroke-width="0.85" stroke-opacity="0.9"/>
<circle cx="85.3" cy="759.88" r="1.55" fill="#4A36C8" fill-opacity="0.8" stroke="#4E3FBE" stroke-width="0.85" stroke-opacity="0.9"/>
<circle cx="85.3" cy="781.16" r="1.55" fill="#A99FF2" fill-opacity="0.8" stroke="#4E3FBE" stroke-width="0.85" stroke-opacity="0.9"/>
<circle cx="85.3" cy="791.80" r="1.55" fill="#4A36C8" fill-opacity="0.8" stroke="#4E3FBE" stroke-width="0.85" stroke-opacity="0.9"/>
<circle cx="85.3" cy="813.08" r="1.55" fill="#4A36C8" fill-opacity="0.8" stroke="#4E3FBE" stroke-width="0.85" stroke-opacity="0.9"/>
<circle cx="85.3" cy="823.72" r="1.55" fill="#4A36C8" fill-opacity="0.8" stroke="#4E3FBE" stroke-width="0.85" stroke-opacity="0.9"/>
<circle cx="85.3" cy="845.00" r="1.55" fill="#A99FF2" fill-opacity="0.8" stroke="#4E3FBE" stroke-width="0.85" stroke-opacity="0.9"/>
<circle cx="85.3" cy="855.64" r="1.55" fill="#4A36C8" fill-opacity="0.8" stroke="#4E3FBE" stroke-width="0.85" stroke-opacity="0.9"/>
<circle cx="85.3" cy="866.28" r="1.55" fill="#A99FF2" fill-opacity="0.8" stroke="#4E3FBE" stroke-width="0.85" stroke-opacity="0.9"/>
<circle cx="85.3" cy="919.48" r="1.55" fill="#4A36C8" fill-opacity="0.8" stroke="#4E3FBE" stroke-width="0.85" stroke-opacity="0.9"/>
<circle cx="85.3" cy="930.12" r="1.55" fill="#A99FF2" fill-opacity="0.8" stroke="#4E3FBE" stroke-width="0.85" stroke-opacity="0.9"/>
<circle cx="85.3" cy="940.76" r="1.55" fill="#A99FF2" fill-opacity="0.8" stroke="#4E3FBE" stroke-width="0.85" stroke-opacity="0.9"/>
<circle cx="85.3" cy="951.40" r="1.55" fill="#A99FF2" fill-opacity="0.8" stroke="#4E3FBE" stroke-width="0.85" stroke-opacity="0.9"/>
<circle cx="85.3" cy="983.32" r="1.55" fill="#A99FF2" fill-opacity="0.8" stroke="#4E3FBE" stroke-width="0.85" stroke-opacity="0.9"/>
<circle cx="85.3" cy="1004.60" r="1.55" fill="#A99FF2" fill-opacity="0.8" stroke="#4E3FBE" stroke-width="0.85" stroke-opacity="0.9"/>
<circle cx="133.7" cy="738.60" r="1.55" fill="#C8860A" fill-opacity="0.8" stroke="#B07D12" stroke-width="0.85" stroke-opacity="0.9"/>
<circle cx="133.7" cy="749.24" r="1.55" fill="#C8860A" fill-opacity="0.8" stroke="#B07D12" stroke-width="0.85" stroke-opacity="0.9"/>
<circle cx="133.7" cy="759.88" r="1.55" fill="#C8860A" fill-opacity="0.8" stroke="#B07D12" stroke-width="0.85" stroke-opacity="0.9"/>
<circle cx="133.7" cy="770.52" r="1.55" fill="#C8860A" fill-opacity="0.8" stroke="#B07D12" stroke-width="0.85" stroke-opacity="0.9"/>
<circle cx="133.7" cy="781.16" r="1.55" fill="#EDB53C" fill-opacity="0.8" stroke="#B07D12" stroke-width="0.85" stroke-opacity="0.9"/>
<circle cx="133.7" cy="834.36" r="1.55" fill="#EDB53C" fill-opacity="0.8" stroke="#B07D12" stroke-width="0.85" stroke-opacity="0.9"/>
<circle cx="133.7" cy="845.00" r="1.55" fill="#C8860A" fill-opacity="0.8" stroke="#B07D12" stroke-width="0.85" stroke-opacity="0.9"/>
<circle cx="133.7" cy="855.64" r="1.55" fill="#EDB53C" fill-opacity="0.8" stroke="#B07D12" stroke-width="0.85" stroke-opacity="0.9"/>
<circle cx="133.7" cy="876.92" r="1.55" fill="#EDB53C" fill-opacity="0.8" stroke="#B07D12" stroke-width="0.85" stroke-opacity="0.9"/>
<circle cx="133.7" cy="887.56" r="1.55" fill="#C8860A" fill-opacity="0.8" stroke="#B07D12" stroke-width="0.85" stroke-opacity="0.9"/>
<circle cx="133.7" cy="908.84" r="1.55" fill="#EDB53C" fill-opacity="0.8" stroke="#B07D12" stroke-width="0.85" stroke-opacity="0.9"/>
<circle cx="133.7" cy="930.12" r="1.55" fill="#C8860A" fill-opacity="0.8" stroke="#B07D12" stroke-width="0.85" stroke-opacity="0.9"/>
<circle cx="133.7" cy="951.40" r="1.55" fill="#EDB53C" fill-opacity="0.8" stroke="#B07D12" stroke-width="0.85" stroke-opacity="0.9"/>
<circle cx="133.7" cy="962.04" r="1.55" fill="#EDB53C" fill-opacity="0.8" stroke="#B07D12" stroke-width="0.85" stroke-opacity="0.9"/>
<circle cx="133.7" cy="983.32" r="1.55" fill="#C8860A" fill-opacity="0.8" stroke="#B07D12" stroke-width="0.85" stroke-opacity="0.9"/>
<circle cx="133.7" cy="1004.60" r="1.55" fill="#EDB53C" fill-opacity="0.8" stroke="#B07D12" stroke-width="0.85" stroke-opacity="0.9"/>
<circle cx="233.0" cy="738.60" r="1.55" fill="#4A36C8" fill-opacity="0.8" stroke="#4E3FBE" stroke-width="0.85" stroke-opacity="0.9"/>
<circle cx="233.0" cy="781.16" r="1.55" fill="#A99FF2" fill-opacity="0.8" stroke="#4E3FBE" stroke-width="0.85" stroke-opacity="0.9"/>
<circle cx="233.0" cy="791.80" r="1.55" fill="#4A36C8" fill-opacity="0.8" stroke="#4E3FBE" stroke-width="0.85" stroke-opacity="0.9"/>
<circle cx="233.0" cy="802.44" r="1.55" fill="#A99FF2" fill-opacity="0.8" stroke="#4E3FBE" stroke-width="0.85" stroke-opacity="0.9"/>
<circle cx="233.0" cy="834.36" r="1.55" fill="#4A36C8" fill-opacity="0.8" stroke="#4E3FBE" stroke-width="0.85" stroke-opacity="0.9"/>
<circle cx="233.0" cy="855.64" r="1.55" fill="#A99FF2" fill-opacity="0.8" stroke="#4E3FBE" stroke-width="0.85" stroke-opacity="0.9"/>
<circle cx="233.0" cy="887.56" r="1.55" fill="#4A36C8" fill-opacity="0.8" stroke="#4E3FBE" stroke-width="0.85" stroke-opacity="0.9"/>
<circle cx="233.0" cy="940.76" r="1.55" fill="#A99FF2" fill-opacity="0.8" stroke="#4E3FBE" stroke-width="0.85" stroke-opacity="0.9"/>
<circle cx="233.0" cy="951.40" r="1.55" fill="#4A36C8" fill-opacity="0.8" stroke="#4E3FBE" stroke-width="0.85" stroke-opacity="0.9"/>
<circle cx="233.0" cy="962.04" r="1.55" fill="#A99FF2" fill-opacity="0.8" stroke="#4E3FBE" stroke-width="0.85" stroke-opacity="0.9"/>
<circle cx="233.0" cy="983.32" r="1.55" fill="#A99FF2" fill-opacity="0.8" stroke="#4E3FBE" stroke-width="0.85" stroke-opacity="0.9"/>
<circle cx="233.0" cy="993.96" r="1.55" fill="#4A36C8" fill-opacity="0.8" stroke="#4E3FBE" stroke-width="0.85" stroke-opacity="0.9"/>
<circle cx="233.0" cy="1004.60" r="1.55" fill="#A99FF2" fill-opacity="0.8" stroke="#4E3FBE" stroke-width="0.85" stroke-opacity="0.9"/>
<circle cx="281.0" cy="738.60" r="1.55" fill="#C8860A" fill-opacity="0.8" stroke="#B07D12" stroke-width="0.85" stroke-opacity="0.9"/>
<circle cx="281.0" cy="759.88" r="1.55" fill="#EDB53C" fill-opacity="0.8" stroke="#B07D12" stroke-width="0.85" stroke-opacity="0.9"/>
<circle cx="281.0" cy="770.52" r="1.55" fill="#EDB53C" fill-opacity="0.8" stroke="#B07D12" stroke-width="0.85" stroke-opacity="0.9"/>
<circle cx="281.0" cy="781.16" r="1.55" fill="#C8860A" fill-opacity="0.8" stroke="#B07D12" stroke-width="0.85" stroke-opacity="0.9"/>
<circle cx="281.0" cy="791.80" r="1.55" fill="#C8860A" fill-opacity="0.8" stroke="#B07D12" stroke-width="0.85" stroke-opacity="0.9"/>
<circle cx="281.0" cy="802.44" r="1.55" fill="#EDB53C" fill-opacity="0.8" stroke="#B07D12" stroke-width="0.85" stroke-opacity="0.9"/>
<circle cx="281.0" cy="813.08" r="1.55" fill="#C8860A" fill-opacity="0.8" stroke="#B07D12" stroke-width="0.85" stroke-opacity="0.9"/>
<circle cx="281.0" cy="823.72" r="1.55" fill="#EDB53C" fill-opacity="0.8" stroke="#B07D12" stroke-width="0.85" stroke-opacity="0.9"/>
<circle cx="281.0" cy="834.36" r="1.55" fill="#C8860A" fill-opacity="0.8" stroke="#B07D12" stroke-width="0.85" stroke-opacity="0.9"/>
<circle cx="281.0" cy="845.00" r="1.55" fill="#C8860A" fill-opacity="0.8" stroke="#B07D12" stroke-width="0.85" stroke-opacity="0.9"/>
<circle cx="281.0" cy="855.64" r="1.55" fill="#EDB53C" fill-opacity="0.8" stroke="#B07D12" stroke-width="0.85" stroke-opacity="0.9"/>
<circle cx="281.0" cy="876.92" r="1.55" fill="#EDB53C" fill-opacity="0.8" stroke="#B07D12" stroke-width="0.85" stroke-opacity="0.9"/>
<circle cx="281.0" cy="898.20" r="1.55" fill="#C8860A" fill-opacity="0.8" stroke="#B07D12" stroke-width="0.85" stroke-opacity="0.9"/>
<circle cx="281.0" cy="993.96" r="1.55" fill="#EDB53C" fill-opacity="0.8" stroke="#B07D12" stroke-width="0.85" stroke-opacity="0.9"/>
<circle cx="380.1" cy="738.60" r="1.55" fill="#4A36C8" fill-opacity="0.8" stroke="#4E3FBE" stroke-width="0.85" stroke-opacity="0.9"/>
<circle cx="380.1" cy="749.24" r="1.55" fill="#A99FF2" fill-opacity="0.8" stroke="#4E3FBE" stroke-width="0.85" stroke-opacity="0.9"/>
<circle cx="380.1" cy="770.52" r="1.55" fill="#A99FF2" fill-opacity="0.8" stroke="#4E3FBE" stroke-width="0.85" stroke-opacity="0.9"/>
<circle cx="380.1" cy="781.16" r="1.55" fill="#4A36C8" fill-opacity="0.8" stroke="#4E3FBE" stroke-width="0.85" stroke-opacity="0.9"/>
<circle cx="380.1" cy="791.80" r="1.55" fill="#A99FF2" fill-opacity="0.8" stroke="#4E3FBE" stroke-width="0.85" stroke-opacity="0.9"/>
<circle cx="380.1" cy="802.44" r="1.55" fill="#A99FF2" fill-opacity="0.8" stroke="#4E3FBE" stroke-width="0.85" stroke-opacity="0.9"/>
<circle cx="380.1" cy="813.08" r="1.55" fill="#A99FF2" fill-opacity="0.8" stroke="#4E3FBE" stroke-width="0.85" stroke-opacity="0.9"/>
<circle cx="380.1" cy="823.72" r="1.55" fill="#A99FF2" fill-opacity="0.8" stroke="#4E3FBE" stroke-width="0.85" stroke-opacity="0.9"/>
<circle cx="380.1" cy="834.36" r="1.55" fill="#A99FF2" fill-opacity="0.8" stroke="#4E3FBE" stroke-width="0.85" stroke-opacity="0.9"/>
<circle cx="380.1" cy="845.00" r="1.55" fill="#4A36C8" fill-opacity="0.8" stroke="#4E3FBE" stroke-width="0.85" stroke-opacity="0.9"/>
<circle cx="380.1" cy="855.64" r="1.55" fill="#A99FF2" fill-opacity="0.8" stroke="#4E3FBE" stroke-width="0.85" stroke-opacity="0.9"/>
<circle cx="380.1" cy="887.56" r="1.55" fill="#A99FF2" fill-opacity="0.8" stroke="#4E3FBE" stroke-width="0.85" stroke-opacity="0.9"/>
<circle cx="380.1" cy="898.20" r="1.55" fill="#4A36C8" fill-opacity="0.8" stroke="#4E3FBE" stroke-width="0.85" stroke-opacity="0.9"/>
<circle cx="380.1" cy="919.48" r="1.55" fill="#A99FF2" fill-opacity="0.8" stroke="#4E3FBE" stroke-width="0.85" stroke-opacity="0.9"/>
<circle cx="380.1" cy="930.12" r="1.55" fill="#A99FF2" fill-opacity="0.8" stroke="#4E3FBE" stroke-width="0.85" stroke-opacity="0.9"/>
<circle cx="380.1" cy="951.40" r="1.55" fill="#4A36C8" fill-opacity="0.8" stroke="#4E3FBE" stroke-width="0.85" stroke-opacity="0.9"/>
<circle cx="380.1" cy="972.68" r="1.55" fill="#4A36C8" fill-opacity="0.8" stroke="#4E3FBE" stroke-width="0.85" stroke-opacity="0.9"/>
<circle cx="380.1" cy="1004.60" r="1.55" fill="#A99FF2" fill-opacity="0.8" stroke="#4E3FBE" stroke-width="0.85" stroke-opacity="0.9"/>
<circle cx="428.5" cy="738.60" r="1.55" fill="#C8860A" fill-opacity="0.8" stroke="#B07D12" stroke-width="0.85" stroke-opacity="0.9"/>
<circle cx="428.5" cy="749.24" r="1.55" fill="#C8860A" fill-opacity="0.8" stroke="#B07D12" stroke-width="0.85" stroke-opacity="0.9"/>
<circle cx="428.5" cy="770.52" r="1.55" fill="#EDB53C" fill-opacity="0.8" stroke="#B07D12" stroke-width="0.85" stroke-opacity="0.9"/>
<circle cx="428.5" cy="781.16" r="1.55" fill="#C8860A" fill-opacity="0.8" stroke="#B07D12" stroke-width="0.85" stroke-opacity="0.9"/>
<circle cx="428.5" cy="791.80" r="1.55" fill="#C8860A" fill-opacity="0.8" stroke="#B07D12" stroke-width="0.85" stroke-opacity="0.9"/>
<circle cx="428.5" cy="802.44" r="1.55" fill="#C8860A" fill-opacity="0.8" stroke="#B07D12" stroke-width="0.85" stroke-opacity="0.9"/>
<circle cx="428.5" cy="813.08" r="1.55" fill="#EDB53C" fill-opacity="0.8" stroke="#B07D12" stroke-width="0.85" stroke-opacity="0.9"/>
<circle cx="428.5" cy="823.72" r="1.55" fill="#C8860A" fill-opacity="0.8" stroke="#B07D12" stroke-width="0.85" stroke-opacity="0.9"/>
<circle cx="428.5" cy="845.00" r="1.55" fill="#EDB53C" fill-opacity="0.8" stroke="#B07D12" stroke-width="0.85" stroke-opacity="0.9"/>
<circle cx="428.5" cy="876.92" r="1.55" fill="#EDB53C" fill-opacity="0.8" stroke="#B07D12" stroke-width="0.85" stroke-opacity="0.9"/>
<circle cx="428.5" cy="898.20" r="1.55" fill="#C8860A" fill-opacity="0.8" stroke="#B07D12" stroke-width="0.85" stroke-opacity="0.9"/>
<circle cx="428.5" cy="908.84" r="1.55" fill="#EDB53C" fill-opacity="0.8" stroke="#B07D12" stroke-width="0.85" stroke-opacity="0.9"/>
<circle cx="428.5" cy="930.12" r="1.55" fill="#EDB53C" fill-opacity="0.8" stroke="#B07D12" stroke-width="0.85" stroke-opacity="0.9"/>
<circle cx="428.5" cy="972.68" r="1.55" fill="#EDB53C" fill-opacity="0.8" stroke="#B07D12" stroke-width="0.85" stroke-opacity="0.9"/>
<circle cx="527.7" cy="738.60" r="1.55" fill="#4A36C8" fill-opacity="0.8" stroke="#4E3FBE" stroke-width="0.85" stroke-opacity="0.9"/>
<circle cx="527.7" cy="749.24" r="1.55" fill="#A99FF2" fill-opacity="0.8" stroke="#4E3FBE" stroke-width="0.85" stroke-opacity="0.9"/>
<circle cx="527.7" cy="770.52" r="1.55" fill="#A99FF2" fill-opacity="0.8" stroke="#4E3FBE" stroke-width="0.85" stroke-opacity="0.9"/>
<circle cx="527.7" cy="791.80" r="1.55" fill="#4A36C8" fill-opacity="0.8" stroke="#4E3FBE" stroke-width="0.85" stroke-opacity="0.9"/>
<circle cx="527.7" cy="802.44" r="1.55" fill="#A99FF2" fill-opacity="0.8" stroke="#4E3FBE" stroke-width="0.85" stroke-opacity="0.9"/>
<circle cx="527.7" cy="813.08" r="1.55" fill="#4A36C8" fill-opacity="0.8" stroke="#4E3FBE" stroke-width="0.85" stroke-opacity="0.9"/>
<circle cx="527.7" cy="823.72" r="1.55" fill="#A99FF2" fill-opacity="0.8" stroke="#4E3FBE" stroke-width="0.85" stroke-opacity="0.9"/>
<circle cx="527.7" cy="834.36" r="1.55" fill="#A99FF2" fill-opacity="0.8" stroke="#4E3FBE" stroke-width="0.85" stroke-opacity="0.9"/>
<circle cx="527.7" cy="855.64" r="1.55" fill="#4A36C8" fill-opacity="0.8" stroke="#4E3FBE" stroke-width="0.85" stroke-opacity="0.9"/>
<circle cx="527.7" cy="866.28" r="1.55" fill="#4A36C8" fill-opacity="0.8" stroke="#4E3FBE" stroke-width="0.85" stroke-opacity="0.9"/>
<circle cx="527.7" cy="908.84" r="1.55" fill="#A99FF2" fill-opacity="0.8" stroke="#4E3FBE" stroke-width="0.85" stroke-opacity="0.9"/>
<circle cx="527.7" cy="930.12" r="1.55" fill="#A99FF2" fill-opacity="0.8" stroke="#4E3FBE" stroke-width="0.85" stroke-opacity="0.9"/>
<circle cx="527.7" cy="972.68" r="1.55" fill="#4A36C8" fill-opacity="0.8" stroke="#4E3FBE" stroke-width="0.85" stroke-opacity="0.9"/>
<circle cx="575.6" cy="738.60" r="1.55" fill="#C8860A" fill-opacity="0.8" stroke="#B07D12" stroke-width="0.85" stroke-opacity="0.9"/>
<circle cx="575.6" cy="749.24" r="1.55" fill="#C8860A" fill-opacity="0.8" stroke="#B07D12" stroke-width="0.85" stroke-opacity="0.9"/>
<circle cx="575.6" cy="759.88" r="1.55" fill="#C8860A" fill-opacity="0.8" stroke="#B07D12" stroke-width="0.85" stroke-opacity="0.9"/>
<circle cx="575.6" cy="770.52" r="1.55" fill="#EDB53C" fill-opacity="0.8" stroke="#B07D12" stroke-width="0.85" stroke-opacity="0.9"/>
<circle cx="575.6" cy="791.80" r="1.55" fill="#C8860A" fill-opacity="0.8" stroke="#B07D12" stroke-width="0.85" stroke-opacity="0.9"/>
<circle cx="575.6" cy="813.08" r="1.55" fill="#EDB53C" fill-opacity="0.8" stroke="#B07D12" stroke-width="0.85" stroke-opacity="0.9"/>
<circle cx="575.6" cy="845.00" r="1.55" fill="#EDB53C" fill-opacity="0.8" stroke="#B07D12" stroke-width="0.85" stroke-opacity="0.9"/>
<circle cx="575.6" cy="855.64" r="1.55" fill="#EDB53C" fill-opacity="0.8" stroke="#B07D12" stroke-width="0.85" stroke-opacity="0.9"/>
<circle cx="575.6" cy="866.28" r="1.55" fill="#EDB53C" fill-opacity="0.8" stroke="#B07D12" stroke-width="0.85" stroke-opacity="0.9"/>
<circle cx="575.6" cy="887.56" r="1.55" fill="#EDB53C" fill-opacity="0.8" stroke="#B07D12" stroke-width="0.85" stroke-opacity="0.9"/>
<circle cx="575.6" cy="898.20" r="1.55" fill="#EDB53C" fill-opacity="0.8" stroke="#B07D12" stroke-width="0.85" stroke-opacity="0.9"/>
<circle cx="575.6" cy="930.12" r="1.55" fill="#C8860A" fill-opacity="0.8" stroke="#B07D12" stroke-width="0.85" stroke-opacity="0.9"/>
<circle cx="575.6" cy="983.32" r="1.55" fill="#EDB53C" fill-opacity="0.8" stroke="#B07D12" stroke-width="0.85" stroke-opacity="0.9"/>
<circle cx="575.6" cy="993.96" r="1.55" fill="#EDB53C" fill-opacity="0.8" stroke="#B07D12" stroke-width="0.85" stroke-opacity="0.9"/>
<circle cx="575.6" cy="1004.60" r="1.55" fill="#C8860A" fill-opacity="0.8" stroke="#B07D12" stroke-width="0.85" stroke-opacity="0.9"/>
<path d="M93.80,469.00 C93.90,470.35 94.12,475.03 94.40,477.10 C94.68,479.17 95.00,479.97 95.50,481.40 C96.00,482.83 96.65,484.27 97.40,485.70 C98.15,487.13 99.22,488.87 100.00,490.00 C100.78,491.13 101.40,491.78 102.10,492.50 C102.80,493.22 103.20,493.58 104.20,494.30 C105.20,495.02 106.95,495.95 108.10,496.80 C109.25,497.65 110.03,498.40 111.10,499.40 C112.17,500.40 113.50,501.65 114.50,502.80 C115.50,503.95 116.27,505.02 117.10,506.30 C117.93,507.58 119.28,509.37 119.50,510.50 C119.72,511.63 119.08,512.23 118.40,513.10 C117.72,513.97 116.68,514.55 115.40,515.70 C114.12,516.85 112.35,518.58 110.70,520.00 C109.05,521.42 107.28,522.78 105.50,524.20 C103.72,525.62 101.57,527.20 100.00,528.50 C98.43,529.80 97.03,530.85 96.10,532.00 C95.17,533.15 94.78,533.83 94.40,535.40 C94.02,536.97 93.90,540.40 93.80,541.40 L93.80,541.40 Z" fill="#8470FF" stroke="#7260FA" stroke-width="0.9" stroke-linejoin="round"/>
<path d="M141.40,516.30 C141.55,516.90 141.77,518.75 142.30,519.90 C142.83,521.05 143.62,522.08 144.60,523.20 C145.58,524.32 146.77,525.48 148.20,526.60 C149.63,527.72 151.15,528.80 153.20,529.90 C155.25,531.00 157.85,532.10 160.50,533.20 C163.15,534.30 166.57,535.62 169.10,536.50 C171.63,537.38 173.83,537.83 175.70,538.50 C177.57,539.17 179.85,539.73 180.30,540.50 C180.75,541.27 179.93,542.22 178.40,543.10 C176.87,543.98 173.53,544.92 171.10,545.80 C168.67,546.68 166.12,547.52 163.80,548.40 C161.48,549.28 159.42,550.22 157.20,551.10 C154.98,551.98 152.50,552.82 150.50,553.70 C148.50,554.58 146.52,555.40 145.20,556.40 C143.88,557.40 143.23,558.50 142.60,559.70 C141.97,560.90 141.60,562.95 141.40,563.60 L141.40,563.60 Z" fill="#FFA500" stroke="#FF9D00" stroke-width="0.9" stroke-linejoin="round"/>
<path d="M240.20,465.00 C240.28,465.82 240.38,468.20 240.70,469.90 C241.02,471.60 241.62,473.68 242.10,475.20 C242.58,476.72 243.03,477.72 243.60,479.00 C244.17,480.28 244.87,481.62 245.50,482.90 C246.13,484.18 246.70,485.68 247.40,486.70 C248.10,487.72 248.68,488.12 249.70,489.00 C250.72,489.88 252.28,491.12 253.50,492.00 C254.72,492.88 255.72,493.28 257.00,494.30 C258.28,495.32 260.00,496.83 261.20,498.10 C262.40,499.37 263.63,500.88 264.20,501.90 C264.77,502.92 264.73,503.32 264.60,504.20 C264.47,505.08 263.97,506.18 263.40,507.20 C262.83,508.22 262.22,509.28 261.20,510.30 C260.18,511.32 258.97,512.17 257.30,513.30 C255.63,514.43 252.85,515.82 251.20,517.10 C249.55,518.38 248.67,519.72 247.40,521.00 C246.13,522.28 244.55,523.53 243.60,524.80 C242.65,526.07 242.27,526.83 241.70,528.60 C241.13,530.37 240.45,534.27 240.20,535.40 L240.20,535.40 Z" fill="#8470FF" stroke="#7260FA" stroke-width="0.9" stroke-linejoin="round"/>
<path d="M288.20,512.30 C288.28,513.28 288.35,516.65 288.70,518.20 C289.05,519.75 289.48,520.48 290.30,521.60 C291.12,522.72 292.27,523.80 293.60,524.90 C294.93,526.00 296.53,527.10 298.30,528.20 C300.07,529.30 301.78,530.40 304.20,531.50 C306.62,532.60 309.93,533.70 312.80,534.80 C315.67,535.90 319.30,537.10 321.40,538.10 C323.50,539.10 325.17,539.92 325.40,540.80 C325.63,541.68 324.57,542.52 322.80,543.40 C321.03,544.28 317.35,545.22 314.80,546.10 C312.25,546.98 309.92,547.82 307.50,548.70 C305.08,549.58 302.62,550.40 300.30,551.40 C297.98,552.40 295.32,553.60 293.60,554.70 C291.88,555.80 290.90,556.57 290.00,558.00 C289.10,559.43 288.50,562.42 288.20,563.30 L288.20,563.30 Z" fill="#FFA500" stroke="#FF9D00" stroke-width="0.9" stroke-linejoin="round"/>
<path d="M386.60,476.90 C386.70,478.28 386.88,483.18 387.20,485.20 C387.52,487.22 388.03,487.72 388.50,489.00 C388.97,490.28 389.30,491.62 390.00,492.90 C390.70,494.18 391.62,495.43 392.70,496.70 C393.78,497.97 395.10,499.23 396.50,500.50 C397.90,501.77 399.45,503.03 401.10,504.30 C402.75,505.57 404.82,506.83 406.40,508.10 C407.98,509.37 409.58,510.63 410.60,511.90 C411.62,513.17 412.32,514.43 412.50,515.70 C412.68,516.97 412.72,518.23 411.70,519.50 C410.68,520.77 408.30,522.03 406.40,523.30 C404.50,524.57 402.20,525.82 400.30,527.10 C398.40,528.38 396.65,529.72 395.00,531.00 C393.35,532.28 391.55,533.53 390.40,534.80 C389.25,536.07 388.73,536.83 388.10,538.60 C387.47,540.37 386.85,544.27 386.60,545.40 L386.60,545.40 Z" fill="#8470FF" stroke="#7260FA" stroke-width="0.9" stroke-linejoin="round"/>
<path d="M434.50,519.30 C434.58,520.28 434.53,523.65 435.00,525.20 C435.47,526.75 436.37,527.48 437.30,528.60 C438.23,529.72 439.05,530.80 440.60,531.90 C442.15,533.00 444.40,534.10 446.60,535.20 C448.80,536.30 451.27,537.40 453.80,538.50 C456.33,539.60 459.03,540.70 461.80,541.80 C464.57,542.90 467.97,544.10 470.40,545.10 C472.83,546.10 476.52,546.92 476.40,547.80 C476.28,548.68 472.35,549.52 469.70,550.40 C467.05,551.28 463.47,552.22 460.50,553.10 C457.53,553.98 454.67,554.82 451.90,555.70 C449.13,556.58 446.23,557.40 443.90,558.40 C441.57,559.40 439.33,560.60 437.90,561.70 C436.47,562.80 435.87,564.02 435.30,565.00 C434.73,565.98 434.63,567.17 434.50,567.60 L434.50,567.60 Z" fill="#FFA500" stroke="#FF9D00" stroke-width="0.9" stroke-linejoin="round"/>
<path d="M533.00,443.90 C533.08,445.20 533.23,449.63 533.50,451.70 C533.77,453.77 534.23,454.78 534.60,456.30 C534.97,457.82 535.28,459.28 535.70,460.80 C536.12,462.32 536.57,464.03 537.10,465.40 C537.63,466.77 538.13,467.78 538.90,469.00 C539.67,470.22 540.63,471.47 541.70,472.70 C542.77,473.93 544.08,475.18 545.30,476.40 C546.52,477.62 547.93,478.78 549.00,480.00 C550.07,481.22 550.78,482.33 551.70,483.70 C552.62,485.07 553.82,486.83 554.50,488.20 C555.18,489.57 555.97,490.68 555.80,491.90 C555.63,493.12 554.48,494.13 553.50,495.50 C552.52,496.87 551.18,498.57 549.90,500.10 C548.62,501.63 547.32,503.18 545.80,504.70 C544.28,506.22 542.25,507.68 540.80,509.20 C539.35,510.72 538.17,512.27 537.10,513.80 C536.03,515.33 535.08,515.97 534.40,518.40 C533.72,520.83 533.23,526.73 533.00,528.40 L533.00,528.40 Z" fill="#8470FF" stroke="#7260FA" stroke-width="0.9" stroke-linejoin="round"/>
<path d="M581.00,498.00 C581.05,499.00 581.08,502.55 581.30,504.00 C581.52,505.45 581.80,505.70 582.30,506.70 C582.80,507.70 583.52,508.90 584.30,510.00 C585.08,511.10 586.00,512.18 587.00,513.30 C588.00,514.42 588.85,515.58 590.30,516.70 C591.75,517.82 593.47,518.90 595.70,520.00 C597.93,521.10 601.37,522.18 603.70,523.30 C606.03,524.42 608.15,525.58 609.70,526.70 C611.25,527.82 612.78,528.90 613.00,530.00 C613.22,531.10 612.33,532.18 611.00,533.30 C609.67,534.42 607.33,535.58 605.00,536.70 C602.67,537.82 599.45,538.90 597.00,540.00 C594.55,541.10 592.30,542.18 590.30,543.30 C588.30,544.42 586.33,545.58 585.00,546.70 C583.67,547.82 582.97,548.23 582.30,550.00 C581.63,551.77 581.22,556.08 581.00,557.30 L581.00,557.30 Z" fill="#FFA500" stroke="#FF9D00" stroke-width="0.9" stroke-linejoin="round"/>
<path d="M90.00,741.10 C90.08,746.83 90.23,768.43 90.50,775.50 C90.77,782.57 91.02,780.82 91.60,783.50 C92.18,786.18 93.18,788.90 94.00,791.60 C94.82,794.30 95.82,797.53 96.50,799.70 C97.18,801.87 97.17,802.98 98.10,804.60 C99.03,806.22 100.35,807.52 102.10,809.40 C103.85,811.28 106.17,813.73 108.60,815.90 C111.03,818.07 114.13,820.23 116.70,822.40 C119.27,824.57 122.52,827.28 124.00,828.90 C125.48,830.52 125.47,830.48 125.60,832.10 C125.73,833.72 124.80,836.72 124.80,838.60 C124.80,840.48 126.00,841.78 125.60,843.40 C125.20,845.02 124.15,846.42 122.40,848.30 C120.65,850.18 117.67,852.55 115.10,854.70 C112.53,856.85 109.43,859.03 107.00,861.20 C104.57,863.37 102.52,865.53 100.50,867.70 C98.48,869.87 96.30,872.05 94.90,874.20 C93.50,876.35 92.78,878.45 92.10,880.60 C91.42,882.75 91.15,884.40 90.80,887.10 C90.45,889.80 90.13,895.18 90.00,896.80 L90.00,896.80 Z" fill="#8470FF" stroke="#7260FA" stroke-width="0.9" stroke-linejoin="round"/>
<path d="M138.50,794.50 C138.58,796.48 138.77,803.42 139.00,806.40 C139.23,809.38 139.45,810.42 139.90,812.40 C140.35,814.38 140.70,816.32 141.70,818.30 C142.70,820.28 144.42,822.32 145.90,824.30 C147.38,826.28 148.82,828.22 150.60,830.20 C152.38,832.18 154.42,834.40 156.60,836.20 C158.78,838.00 161.12,839.42 163.70,841.00 C166.28,842.58 170.12,844.12 172.10,845.70 C174.08,847.28 174.62,848.92 175.60,850.50 C176.58,852.08 177.10,853.62 178.00,855.20 C178.90,856.78 181.20,858.40 181.00,860.00 C180.80,861.60 178.68,863.22 176.80,864.80 C174.92,866.38 172.27,867.72 169.70,869.50 C167.13,871.28 164.18,873.52 161.40,875.50 C158.62,877.48 155.58,879.42 153.00,881.40 C150.42,883.38 147.98,885.42 145.90,887.40 C143.82,889.38 141.65,891.32 140.50,893.30 C139.35,895.28 139.33,897.52 139.00,899.30 C138.67,901.08 138.58,903.22 138.50,904.00 L138.50,904.00 Z" fill="#FFA500" stroke="#FF9D00" stroke-width="0.9" stroke-linejoin="round"/>
<path d="M237.90,794.10 C238.02,795.62 238.23,800.68 238.60,803.20 C238.97,805.72 239.45,807.18 240.10,809.20 C240.75,811.22 241.60,813.28 242.50,815.30 C243.40,817.32 244.28,819.28 245.50,821.30 C246.72,823.32 248.08,825.38 249.80,827.40 C251.52,829.42 253.58,831.38 255.80,833.40 C258.02,835.42 260.88,837.48 263.10,839.50 C265.32,841.52 267.18,843.48 269.10,845.50 C271.02,847.52 273.38,849.58 274.60,851.60 C275.82,853.62 276.50,855.78 276.40,857.60 C276.30,859.42 275.22,860.88 274.00,862.50 C272.78,864.12 270.92,865.68 269.10,867.30 C267.28,868.92 265.12,870.58 263.10,872.20 C261.08,873.82 259.02,875.38 257.00,877.00 C254.98,878.62 252.82,880.08 251.00,881.90 C249.18,883.72 247.72,885.88 246.10,887.90 C244.48,889.92 242.50,891.98 241.30,894.00 C240.10,896.02 239.47,897.98 238.90,900.00 C238.33,902.02 238.07,905.08 237.90,906.10 L237.90,906.10 Z" fill="#8470FF" stroke="#7260FA" stroke-width="0.9" stroke-linejoin="round"/>
<path d="M285.60,703.40 C285.65,707.12 285.75,720.57 285.90,725.70 C286.05,730.83 286.12,731.35 286.50,734.20 C286.88,737.05 287.40,739.93 288.20,742.80 C289.00,745.67 290.08,748.55 291.30,751.40 C292.52,754.25 294.08,757.05 295.50,759.90 C296.92,762.75 298.08,765.63 299.80,768.50 C301.52,771.37 303.65,774.25 305.80,777.10 C307.95,779.95 310.98,782.75 312.70,785.60 C314.42,788.45 315.40,791.35 316.10,794.20 C316.80,797.05 317.62,799.85 316.90,802.70 C316.18,805.55 313.80,808.43 311.80,811.30 C309.80,814.17 307.18,817.05 304.90,819.90 C302.62,822.75 300.37,825.55 298.10,828.40 C295.83,831.25 293.15,834.15 291.30,837.00 C289.45,839.85 287.90,842.65 287.00,845.50 C286.10,848.35 286.13,849.67 285.90,854.10 C285.67,858.53 285.65,869.10 285.60,872.10 L285.60,872.10 Z" fill="#FFA500" stroke="#FF9D00" stroke-width="0.9" stroke-linejoin="round"/>
<path d="M384.90,781.90 C384.97,785.17 385.03,797.15 385.30,801.50 C385.57,805.85 386.02,805.82 386.50,808.00 C386.98,810.18 387.48,812.42 388.20,814.60 C388.92,816.78 389.72,818.93 390.80,821.10 C391.88,823.27 393.07,825.65 394.70,827.60 C396.33,829.55 398.32,830.83 400.60,832.80 C402.88,834.77 405.90,837.22 408.40,839.40 C410.90,841.58 413.32,843.73 415.60,845.90 C417.88,848.07 420.37,850.23 422.10,852.40 C423.83,854.57 425.67,856.93 426.00,858.90 C426.33,860.87 425.52,862.45 424.10,864.20 C422.68,865.95 420.12,867.45 417.50,869.40 C414.88,871.35 411.43,873.73 408.40,875.90 C405.37,878.07 402.13,880.22 399.30,882.40 C396.47,884.58 393.47,886.82 391.40,889.00 C389.33,891.18 387.87,893.33 386.90,895.50 C385.93,897.67 385.93,899.60 385.60,902.00 C385.27,904.40 385.02,908.58 384.90,909.90 L384.90,909.90 Z" fill="#8470FF" stroke="#7260FA" stroke-width="0.9" stroke-linejoin="round"/>
<path d="M433.30,715.40 C433.42,716.88 433.72,721.63 434.00,724.30 C434.28,726.97 434.52,729.02 435.00,731.40 C435.48,733.78 436.12,736.22 436.90,738.60 C437.68,740.98 438.63,743.32 439.70,745.70 C440.77,748.08 441.98,750.52 443.30,752.90 C444.62,755.28 446.05,757.63 447.60,760.00 C449.15,762.37 451.17,764.72 452.60,767.10 C454.03,769.48 455.02,771.92 456.20,774.30 C457.38,776.68 458.52,779.02 459.70,781.40 C460.88,783.78 462.35,786.22 463.30,788.60 C464.25,790.98 465.75,793.32 465.40,795.70 C465.05,798.08 462.98,800.52 461.20,802.90 C459.42,805.28 456.73,807.63 454.70,810.00 C452.67,812.37 450.90,814.72 449.00,817.10 C447.10,819.48 444.97,821.92 443.30,824.30 C441.63,826.68 440.32,829.02 439.00,831.40 C437.68,833.78 436.23,836.22 435.40,838.60 C434.57,840.98 434.35,843.32 434.00,845.70 C433.65,848.08 433.42,851.70 433.30,852.90 L433.30,852.90 Z" fill="#FFA500" stroke="#FF9D00" stroke-width="0.9" stroke-linejoin="round"/>
<path d="M532.60,736.50 C532.70,738.55 532.88,745.53 533.20,748.80 C533.52,752.07 534.05,753.68 534.50,756.10 C534.95,758.52 535.30,760.88 535.90,763.30 C536.50,765.72 537.13,768.18 538.10,770.60 C539.07,773.02 540.48,775.38 541.70,777.80 C542.92,780.22 544.18,782.92 545.40,785.10 C546.62,787.28 547.43,788.97 549.00,790.90 C550.57,792.83 552.87,794.77 554.80,796.70 C556.73,798.63 559.15,800.57 560.60,802.50 C562.05,804.43 562.78,806.37 563.50,808.30 C564.22,810.23 564.90,812.17 564.90,814.10 C564.90,816.03 564.47,817.97 563.50,819.90 C562.53,821.83 560.68,823.78 559.10,825.70 C557.52,827.62 555.68,829.23 554.00,831.40 C552.32,833.57 550.80,836.28 549.00,838.70 C547.20,841.12 545.02,843.48 543.20,845.90 C541.38,848.32 539.55,850.78 538.10,853.20 C536.65,855.62 535.35,857.98 534.50,860.40 C533.65,862.82 533.32,865.03 533.00,867.70 C532.68,870.37 532.67,874.95 532.60,876.40 L532.60,876.40 Z" fill="#8470FF" stroke="#7260FA" stroke-width="0.9" stroke-linejoin="round"/>
<path d="M580.40,756.20 C580.52,758.85 580.73,768.22 581.10,772.10 C581.47,775.98 582.10,777.03 582.60,779.50 C583.10,781.97 583.48,784.45 584.10,786.90 C584.72,789.35 585.32,791.75 586.30,794.20 C587.28,796.65 588.65,799.13 590.00,801.60 C591.35,804.07 592.68,806.53 594.40,809.00 C596.12,811.47 598.45,813.95 600.30,816.40 C602.15,818.85 603.90,821.25 605.50,823.70 C607.10,826.15 608.87,828.88 609.90,831.10 C610.93,833.32 611.58,835.03 611.70,837.00 C611.82,838.97 611.02,840.93 610.60,842.90 C610.18,844.87 610.05,846.83 609.20,848.80 C608.35,850.77 607.35,852.48 605.50,854.70 C603.65,856.92 600.57,859.63 598.10,862.10 C595.63,864.57 592.78,867.05 590.70,869.50 C588.62,871.95 586.95,874.35 585.60,876.80 C584.25,879.25 583.35,881.73 582.60,884.20 C581.85,886.67 581.47,888.90 581.10,891.60 C580.73,894.30 580.52,898.93 580.40,900.40 L580.40,900.40 Z" fill="#FFA500" stroke="#FF9D00" stroke-width="0.9" stroke-linejoin="round"/>
<line x1="93.8" y1="484" x2="93.8" y2="529.4" stroke="#000" stroke-width="1.1"/>
<line x1="93.8" y1="496.8" x2="93.8" y2="519.1" stroke="#000" stroke-width="2.1"/>
<circle cx="93.8" cy="509" r="2.65" fill="#000"/>
<line x1="141.4" y1="525.2" x2="141.4" y2="555" stroke="#000" stroke-width="1.1"/>
<line x1="141.4" y1="534.5" x2="141.4" y2="548.4" stroke="#000" stroke-width="2.1"/>
<circle cx="141.4" cy="541.8" r="2.65" fill="#000"/>
<line x1="240.2" y1="477.1" x2="240.2" y2="525.5" stroke="#000" stroke-width="1.1"/>
<line x1="240.2" y1="492" x2="240.2" y2="514.5" stroke="#000" stroke-width="2.1"/>
<circle cx="240.2" cy="503.8" r="2.65" fill="#000"/>
<line x1="288.2" y1="523.5" x2="288.2" y2="555.3" stroke="#000" stroke-width="1.1"/>
<line x1="288.2" y1="533.5" x2="288.2" y2="547.7" stroke="#000" stroke-width="2.1"/>
<circle cx="288.2" cy="541.1" r="2.65" fill="#000"/>
<line x1="386.6" y1="492.9" x2="386.6" y2="535.5" stroke="#000" stroke-width="1.1"/>
<line x1="386.6" y1="505" x2="386.6" y2="526.4" stroke="#000" stroke-width="2.1"/>
<circle cx="386.6" cy="516.1" r="2.65" fill="#000"/>
<line x1="434.5" y1="530.5" x2="434.5" y2="559.4" stroke="#000" stroke-width="1.1"/>
<line x1="434.5" y1="539.2" x2="434.5" y2="552.4" stroke="#000" stroke-width="2.1"/>
<circle cx="434.5" cy="546.3" r="2.65" fill="#000"/>
<line x1="533.0" y1="461.3" x2="533.0" y2="513.8" stroke="#000" stroke-width="1.1"/>
<line x1="533.0" y1="476.8" x2="533.0" y2="501.9" stroke="#000" stroke-width="2.1"/>
<circle cx="533.0" cy="490.5" r="2.65" fill="#000"/>
<line x1="581.0" y1="509.3" x2="581.0" y2="546.7" stroke="#000" stroke-width="1.1"/>
<line x1="581.0" y1="521.3" x2="581.0" y2="538" stroke="#000" stroke-width="2.1"/>
<circle cx="581.0" cy="530.5" r="2.65" fill="#000"/>
<line x1="90.0" y1="794.9" x2="90.0" y2="871.7" stroke="#000" stroke-width="1.1"/>
<line x1="90.0" y1="819.1" x2="90.0" y2="855.5" stroke="#000" stroke-width="2.1"/>
<circle cx="90.0" cy="837.4" r="2.65" fill="#000"/>
<line x1="138.5" y1="820.1" x2="138.5" y2="888" stroke="#000" stroke-width="1.1"/>
<line x1="138.5" y1="840.4" x2="138.5" y2="873.1" stroke="#000" stroke-width="2.1"/>
<circle cx="138.5" cy="857.6" r="2.65" fill="#000"/>
<line x1="237.9" y1="816.7" x2="237.9" y2="888.5" stroke="#000" stroke-width="1.1"/>
<line x1="237.9" y1="837.1" x2="237.9" y2="871.9" stroke="#000" stroke-width="2.1"/>
<circle cx="237.9" cy="855.2" r="2.65" fill="#000"/>
<line x1="285.6" y1="748.8" x2="285.6" y2="838.7" stroke="#000" stroke-width="1.1"/>
<line x1="285.6" y1="774.5" x2="285.6" y2="818.2" stroke="#000" stroke-width="2.1"/>
<circle cx="285.6" cy="797.9" r="2.65" fill="#000"/>
<line x1="384.9" y1="813.2" x2="384.9" y2="890" stroke="#000" stroke-width="1.1"/>
<line x1="384.9" y1="840" x2="384.9" y2="874" stroke="#000" stroke-width="2.1"/>
<circle cx="384.9" cy="858.3" r="2.65" fill="#000"/>
<line x1="433.3" y1="738.6" x2="433.3" y2="830.7" stroke="#000" stroke-width="1.1"/>
<line x1="433.3" y1="765" x2="433.3" y2="810.7" stroke="#000" stroke-width="2.1"/>
<circle cx="433.3" cy="790.7" r="2.65" fill="#000"/>
<line x1="532.6" y1="764.8" x2="532.6" y2="853.9" stroke="#000" stroke-width="1.1"/>
<line x1="532.6" y1="791.6" x2="532.6" y2="833.6" stroke="#000" stroke-width="2.1"/>
<circle cx="532.6" cy="813.6" r="2.65" fill="#000"/>
<line x1="580.4" y1="789.1" x2="580.4" y2="877.6" stroke="#000" stroke-width="1.1"/>
<line x1="580.4" y1="815.6" x2="580.4" y2="858.4" stroke="#000" stroke-width="2.1"/>
<circle cx="580.4" cy="837.8" r="2.65" fill="#000"/>
</svg></body></html>
